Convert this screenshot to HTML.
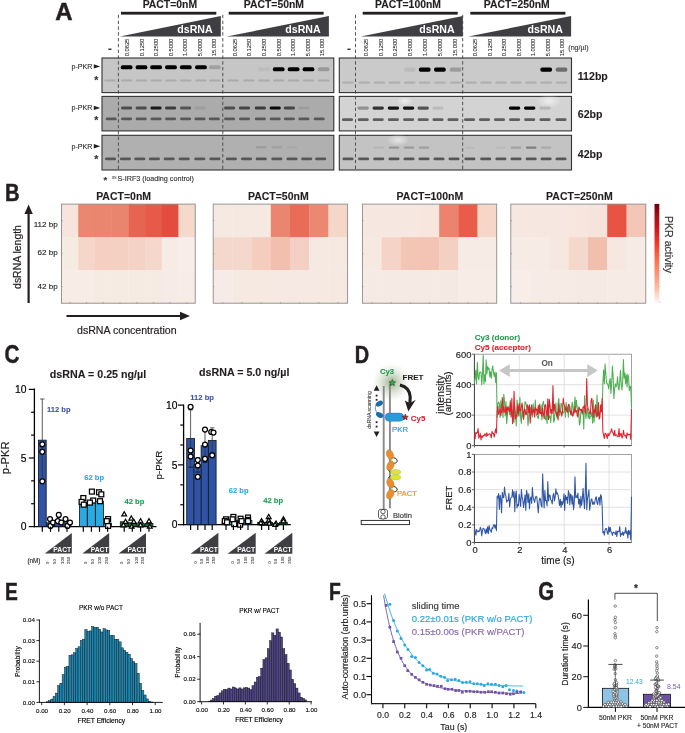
<!DOCTYPE html>
<html><head><meta charset="utf-8"><style>
html,body{margin:0;padding:0;background:#fff;}
svg{display:block;font-family:"Liberation Sans",sans-serif;will-change:transform;}
</style></head><body>
<svg width="685" height="733" viewBox="0 0 685 733">
<defs><filter id="bl" x="-50%" y="-100%" width="200%" height="300%"><feGaussianBlur stdDeviation="0.7"/></filter></defs>
<rect width="685" height="733" fill="#fff"/>
<text transform="translate(55.2,19.9) scale(0.9697,1)" font-size="24.71" font-weight="bold" fill="#231f20" stroke="#231f20" stroke-width="0.5">A</text>
<text x="169.9" y="7.9" font-size="10.4" font-weight="bold" text-anchor="middle" fill="#231f20"  stroke="#231f20" stroke-width="0.112">PACT=0nM</text>
<rect x="121" y="11.8" width="95.3" height="2.8" fill="#231f20" stroke="none" stroke-width="0" />
<polygon points="119.8,36.6 220.8,15.9 220.8,36.6" fill="#3f3f43"/>
<text x="212.6" y="32.6" font-size="10.6" font-weight="bold" text-anchor="end" fill="#ffffff" >dsRNA</text>
<text x="273.9" y="7.9" font-size="10.4" font-weight="bold" text-anchor="middle" fill="#231f20"  stroke="#231f20" stroke-width="0.112">PACT=50nM</text>
<rect x="228.7" y="11.8" width="94.9" height="2.8" fill="#231f20" stroke="none" stroke-width="0" />
<polygon points="226.8,36.6 328.9,15.9 328.9,36.6" fill="#3f3f43"/>
<text x="320.7" y="32.6" font-size="10.6" font-weight="bold" text-anchor="end" fill="#ffffff" >dsRNA</text>
<text x="408" y="7.9" font-size="10.4" font-weight="bold" text-anchor="middle" fill="#231f20"  stroke="#231f20" stroke-width="0.112">PACT=100nM</text>
<rect x="362.7" y="11.8" width="95" height="2.8" fill="#231f20" stroke="none" stroke-width="0" />
<polygon points="360.7,36.6 462.8,15.9 462.8,36.6" fill="#3f3f43"/>
<text x="454.6" y="32.6" font-size="10.6" font-weight="bold" text-anchor="end" fill="#ffffff" >dsRNA</text>
<text x="516.8" y="7.9" font-size="10.4" font-weight="bold" text-anchor="middle" fill="#231f20"  stroke="#231f20" stroke-width="0.112">PACT=250nM</text>
<rect x="470.3" y="11.8" width="95.1" height="2.8" fill="#231f20" stroke="none" stroke-width="0" />
<polygon points="468.3,36.6 571.1,15.9 571.1,36.6" fill="#3f3f43"/>
<text x="562.9" y="32.6" font-size="10.6" font-weight="bold" text-anchor="end" fill="#ffffff" >dsRNA</text>
<text transform="translate(129.4,56.3) rotate(-90)" font-size="5.75" text-anchor="start" fill="#222" stroke="#222" stroke-width="0.08">0.0625</text>
<text transform="translate(143.9,56.3) rotate(-90)" font-size="5.75" text-anchor="start" fill="#222" stroke="#222" stroke-width="0.08">0.1250</text>
<text transform="translate(158.4,56.3) rotate(-90)" font-size="5.75" text-anchor="start" fill="#222" stroke="#222" stroke-width="0.08">0.2500</text>
<text transform="translate(172.9,56.3) rotate(-90)" font-size="5.75" text-anchor="start" fill="#222" stroke="#222" stroke-width="0.08">0.5000</text>
<text transform="translate(187.3,56.3) rotate(-90)" font-size="5.75" text-anchor="start" fill="#222" stroke="#222" stroke-width="0.08">1.0000</text>
<text transform="translate(201.7,56.3) rotate(-90)" font-size="5.75" text-anchor="start" fill="#222" stroke="#222" stroke-width="0.08">5.0000</text>
<text transform="translate(216.1,56.3) rotate(-90)" font-size="5.75" text-anchor="start" fill="#222" stroke="#222" stroke-width="0.08">15.000</text>
<text transform="translate(236.9,56.3) rotate(-90)" font-size="5.75" text-anchor="start" fill="#222" stroke="#222" stroke-width="0.08">0.0625</text>
<text transform="translate(251.4,56.3) rotate(-90)" font-size="5.75" text-anchor="start" fill="#222" stroke="#222" stroke-width="0.08">0.1250</text>
<text transform="translate(266,56.3) rotate(-90)" font-size="5.75" text-anchor="start" fill="#222" stroke="#222" stroke-width="0.08">0.2500</text>
<text transform="translate(280.6,56.3) rotate(-90)" font-size="5.75" text-anchor="start" fill="#222" stroke="#222" stroke-width="0.08">0.5000</text>
<text transform="translate(295.1,56.3) rotate(-90)" font-size="5.75" text-anchor="start" fill="#222" stroke="#222" stroke-width="0.08">1.0000</text>
<text transform="translate(309.7,56.3) rotate(-90)" font-size="5.75" text-anchor="start" fill="#222" stroke="#222" stroke-width="0.08">5.0000</text>
<text transform="translate(324.3,56.3) rotate(-90)" font-size="5.75" text-anchor="start" fill="#222" stroke="#222" stroke-width="0.08">15.000</text>
<text transform="translate(368.1,56.3) rotate(-90)" font-size="5.75" text-anchor="start" fill="#222" stroke="#222" stroke-width="0.08">0.0625</text>
<text transform="translate(382.7,56.3) rotate(-90)" font-size="5.75" text-anchor="start" fill="#222" stroke="#222" stroke-width="0.08">0.1250</text>
<text transform="translate(397.4,56.3) rotate(-90)" font-size="5.75" text-anchor="start" fill="#222" stroke="#222" stroke-width="0.08">0.2500</text>
<text transform="translate(412.1,56.3) rotate(-90)" font-size="5.75" text-anchor="start" fill="#222" stroke="#222" stroke-width="0.08">0.5000</text>
<text transform="translate(426.9,56.3) rotate(-90)" font-size="5.75" text-anchor="start" fill="#222" stroke="#222" stroke-width="0.08">1.0000</text>
<text transform="translate(441.7,56.3) rotate(-90)" font-size="5.75" text-anchor="start" fill="#222" stroke="#222" stroke-width="0.08">5.0000</text>
<text transform="translate(456.6,56.3) rotate(-90)" font-size="5.75" text-anchor="start" fill="#222" stroke="#222" stroke-width="0.08">15.000</text>
<text transform="translate(477.1,56.3) rotate(-90)" font-size="5.75" text-anchor="start" fill="#222" stroke="#222" stroke-width="0.08">0.0625</text>
<text transform="translate(491.6,56.3) rotate(-90)" font-size="5.75" text-anchor="start" fill="#222" stroke="#222" stroke-width="0.08">0.1250</text>
<text transform="translate(506.1,56.3) rotate(-90)" font-size="5.75" text-anchor="start" fill="#222" stroke="#222" stroke-width="0.08">0.2500</text>
<text transform="translate(520.7,56.3) rotate(-90)" font-size="5.75" text-anchor="start" fill="#222" stroke="#222" stroke-width="0.08">0.5000</text>
<text transform="translate(535.3,56.3) rotate(-90)" font-size="5.75" text-anchor="start" fill="#222" stroke="#222" stroke-width="0.08">1.0000</text>
<text transform="translate(549.9,56.3) rotate(-90)" font-size="5.75" text-anchor="start" fill="#222" stroke="#222" stroke-width="0.08">5.0000</text>
<text transform="translate(564.4,56.3) rotate(-90)" font-size="5.75" text-anchor="start" fill="#222" stroke="#222" stroke-width="0.08">15.000</text>
<text x="568.3" y="50.3" font-size="7.1" text-anchor="start" fill="#333"  stroke="#333" stroke-width="0.128">(ng/µl)</text>
<rect x="108.3" y="48.6" width="3.2" height="1.3" fill="#231f20" stroke="none" stroke-width="0" />
<rect x="347.4" y="48.6" width="3.2" height="1.3" fill="#231f20" stroke="none" stroke-width="0" />
<linearGradient id="gL0" x1="0" x2="1" y1="0" y2="0"><stop offset="0" stop-color="#c6c6c6"/><stop offset="1" stop-color="#c6c6c6"/></linearGradient>
<rect x="102" y="58" width="231.8" height="34.6" fill="#c6c6c6" stroke="#333" stroke-width="1.1" />
<linearGradient id="gL1" x1="0" x2="1" y1="0" y2="0"><stop offset="0" stop-color="#ababab"/><stop offset="1" stop-color="#ababab"/></linearGradient>
<rect x="102" y="96.4" width="231.8" height="34.5" fill="#ababab" stroke="#333" stroke-width="1.1" />
<linearGradient id="gL2" x1="0" x2="1" y1="0" y2="0"><stop offset="0" stop-color="#b0b0b0"/><stop offset="1" stop-color="#b0b0b0"/></linearGradient>
<rect x="102" y="135.3" width="231.8" height="34.7" fill="#b0b0b0" stroke="#333" stroke-width="1.1" />
<linearGradient id="gR0" x1="0" x2="1" y1="0" y2="0"><stop offset="0" stop-color="#cacaca"/><stop offset="1" stop-color="#cacaca"/></linearGradient>
<rect x="339.3" y="58" width="232.2" height="34.6" fill="#cacaca" stroke="#333" stroke-width="1.1" />
<linearGradient id="gR1" x1="0" x2="1" y1="0" y2="0"><stop offset="0" stop-color="#d3d3d3"/><stop offset="1" stop-color="#d3d3d3"/></linearGradient>
<rect x="339.3" y="96.4" width="232.2" height="34.5" fill="#d3d3d3" stroke="#333" stroke-width="1.1" />
<linearGradient id="gR2" x1="0" x2="1" y1="0" y2="0"><stop offset="0" stop-color="#c3c3c3"/><stop offset="1" stop-color="#c3c3c3"/></linearGradient>
<rect x="339.3" y="135.3" width="232.2" height="34.7" fill="#c3c3c3" stroke="#333" stroke-width="1.1" />
<radialGradient id="wp"><stop offset="0" stop-color="#fff" stop-opacity="0.6"/><stop offset="1" stop-color="#fff" stop-opacity="0"/></radialGradient>
<ellipse cx="549" cy="101" rx="12.6" ry="6.75" fill="url(#wp)"/>
<ellipse cx="398" cy="140" rx="11.2" ry="6.0" fill="url(#wp)"/>
<ellipse cx="405" cy="101" rx="8.399999999999999" ry="4.5" fill="url(#wp)"/>
<rect x="120.7" y="65.15" width="11.8" height="4.1" rx="1.84" fill="#000" opacity="1" filter="url(#bl)"/>
<rect x="135.6" y="65.15" width="11.8" height="4.1" rx="1.84" fill="#000" opacity="1" filter="url(#bl)"/>
<rect x="150.2" y="65.15" width="11.8" height="4.1" rx="1.84" fill="#000" opacity="1" filter="url(#bl)"/>
<rect x="165.1" y="65.15" width="11.8" height="4.1" rx="1.84" fill="#000" opacity="1" filter="url(#bl)"/>
<rect x="179.9" y="65.15" width="11.8" height="4.1" rx="1.84" fill="#000" opacity="1" filter="url(#bl)"/>
<rect x="195.1" y="65.15" width="11.8" height="4.1" rx="1.84" fill="#000" opacity="1" filter="url(#bl)"/>
<rect x="208.9" y="65.15" width="11.8" height="4.1" rx="1.84" fill="#000" opacity="0.18" filter="url(#bl)"/>
<rect x="258.2" y="67.25" width="11.8" height="4.1" rx="1.84" fill="#000" opacity="0.04" filter="url(#bl)"/>
<rect x="272.8" y="67.25" width="11.8" height="4.1" rx="1.84" fill="#000" opacity="1" filter="url(#bl)"/>
<rect x="287.7" y="67.25" width="11.8" height="4.1" rx="1.84" fill="#000" opacity="1" filter="url(#bl)"/>
<rect x="302.6" y="67.25" width="11.8" height="4.1" rx="1.84" fill="#000" opacity="1" filter="url(#bl)"/>
<rect x="317.7" y="67.25" width="11.8" height="4.1" rx="1.84" fill="#000" opacity="0.22" filter="url(#bl)"/>
<rect x="403.9" y="67.55" width="11.8" height="4.1" rx="1.84" fill="#000" opacity="0.07" filter="url(#bl)"/>
<rect x="418.8" y="67.55" width="11.8" height="4.1" rx="1.84" fill="#000" opacity="1" filter="url(#bl)"/>
<rect x="434" y="67.55" width="11.8" height="4.1" rx="1.84" fill="#000" opacity="1" filter="url(#bl)"/>
<rect x="449.7" y="67.55" width="11.8" height="4.1" rx="1.84" fill="#000" opacity="0.22" filter="url(#bl)"/>
<rect x="540.3" y="67.55" width="11.8" height="4.1" rx="1.84" fill="#000" opacity="1" filter="url(#bl)"/>
<rect x="555.6" y="67.55" width="11.8" height="4.1" rx="1.84" fill="#000" opacity="0.45" filter="url(#bl)"/>
<rect x="104.25" y="79.4" width="11.5" height="2.2" rx="0.99" fill="#000" opacity="0.13" filter="url(#bl)"/>
<rect x="120.85" y="79.4" width="11.5" height="2.2" rx="0.99" fill="#000" opacity="0.13" filter="url(#bl)"/>
<rect x="135.75" y="79.4" width="11.5" height="2.2" rx="0.99" fill="#000" opacity="0.13" filter="url(#bl)"/>
<rect x="150.35" y="79.4" width="11.5" height="2.2" rx="0.99" fill="#000" opacity="0.13" filter="url(#bl)"/>
<rect x="165.25" y="79.4" width="11.5" height="2.2" rx="0.99" fill="#000" opacity="0.13" filter="url(#bl)"/>
<rect x="180.05" y="79.4" width="11.5" height="2.2" rx="0.99" fill="#000" opacity="0.13" filter="url(#bl)"/>
<rect x="195.25" y="79.4" width="11.5" height="2.2" rx="0.99" fill="#000" opacity="0.13" filter="url(#bl)"/>
<rect x="209.05" y="79.4" width="11.5" height="2.2" rx="0.99" fill="#000" opacity="0.13" filter="url(#bl)"/>
<rect x="227.35" y="79.4" width="11.5" height="2.2" rx="0.99" fill="#000" opacity="0.13" filter="url(#bl)"/>
<rect x="243.15" y="79.4" width="11.5" height="2.2" rx="0.99" fill="#000" opacity="0.13" filter="url(#bl)"/>
<rect x="258.35" y="79.4" width="11.5" height="2.2" rx="0.99" fill="#000" opacity="0.13" filter="url(#bl)"/>
<rect x="272.95" y="79.4" width="11.5" height="2.2" rx="0.99" fill="#000" opacity="0.13" filter="url(#bl)"/>
<rect x="287.85" y="79.4" width="11.5" height="2.2" rx="0.99" fill="#000" opacity="0.13" filter="url(#bl)"/>
<rect x="302.75" y="79.4" width="11.5" height="2.2" rx="0.99" fill="#000" opacity="0.13" filter="url(#bl)"/>
<rect x="317.85" y="79.4" width="11.5" height="2.2" rx="0.99" fill="#000" opacity="0.13" filter="url(#bl)"/>
<rect x="342.25" y="81.5" width="11.5" height="2.2" rx="0.99" fill="#000" opacity="0.12" filter="url(#bl)"/>
<rect x="358.45" y="81.5" width="11.5" height="2.2" rx="0.99" fill="#000" opacity="0.12" filter="url(#bl)"/>
<rect x="373.65" y="81.5" width="11.5" height="2.2" rx="0.99" fill="#000" opacity="0.12" filter="url(#bl)"/>
<rect x="388.85" y="81.5" width="11.5" height="2.2" rx="0.99" fill="#000" opacity="0.12" filter="url(#bl)"/>
<rect x="404.05" y="81.5" width="11.5" height="2.2" rx="0.99" fill="#000" opacity="0.12" filter="url(#bl)"/>
<rect x="418.95" y="81.5" width="11.5" height="2.2" rx="0.99" fill="#000" opacity="0.12" filter="url(#bl)"/>
<rect x="434.15" y="81.5" width="11.5" height="2.2" rx="0.99" fill="#000" opacity="0.12" filter="url(#bl)"/>
<rect x="449.85" y="81.5" width="11.5" height="2.2" rx="0.99" fill="#000" opacity="0.12" filter="url(#bl)"/>
<rect x="465.25" y="81.5" width="11.5" height="2.2" rx="0.99" fill="#000" opacity="0.12" filter="url(#bl)"/>
<rect x="480.25" y="81.5" width="11.5" height="2.2" rx="0.99" fill="#000" opacity="0.12" filter="url(#bl)"/>
<rect x="495.25" y="81.5" width="11.5" height="2.2" rx="0.99" fill="#000" opacity="0.12" filter="url(#bl)"/>
<rect x="510.25" y="81.5" width="11.5" height="2.2" rx="0.99" fill="#000" opacity="0.12" filter="url(#bl)"/>
<rect x="525.25" y="81.5" width="11.5" height="2.2" rx="0.99" fill="#000" opacity="0.12" filter="url(#bl)"/>
<rect x="540.45" y="81.5" width="11.5" height="2.2" rx="0.99" fill="#000" opacity="0.12" filter="url(#bl)"/>
<rect x="555.75" y="81.5" width="11.5" height="2.2" rx="0.99" fill="#000" opacity="0.12" filter="url(#bl)"/>
<rect x="121.1" y="106.5" width="11" height="3" rx="1.35" fill="#000" opacity="0.55" filter="url(#bl)"/>
<rect x="135.7" y="106.5" width="11" height="3" rx="1.35" fill="#000" opacity="0.55" filter="url(#bl)"/>
<rect x="150.5" y="106.5" width="11" height="3" rx="1.35" fill="#000" opacity="0.85" filter="url(#bl)"/>
<rect x="165.1" y="106.5" width="11" height="3" rx="1.35" fill="#000" opacity="0.65" filter="url(#bl)"/>
<rect x="180.1" y="106.5" width="11" height="3" rx="1.35" fill="#000" opacity="0.5" filter="url(#bl)"/>
<rect x="194.5" y="106.5" width="11" height="3" rx="1.35" fill="#000" opacity="0.07" filter="url(#bl)"/>
<rect x="224.1" y="106.5" width="11" height="3" rx="1.35" fill="#000" opacity="0.55" filter="url(#bl)"/>
<rect x="239" y="106.5" width="11" height="3" rx="1.35" fill="#000" opacity="0.6" filter="url(#bl)"/>
<rect x="254.8" y="106.5" width="11" height="3" rx="1.35" fill="#000" opacity="0.65" filter="url(#bl)"/>
<rect x="269.7" y="106.5" width="11" height="3" rx="1.35" fill="#000" opacity="0.95" filter="url(#bl)"/>
<rect x="283.9" y="106.5" width="11" height="3" rx="1.35" fill="#000" opacity="0.6" filter="url(#bl)"/>
<rect x="298.4" y="106.5" width="11" height="3" rx="1.35" fill="#000" opacity="0.08" filter="url(#bl)"/>
<rect x="357.6" y="106.6" width="11.2" height="3.2" rx="1.44" fill="#000" opacity="0.3" filter="url(#bl)"/>
<rect x="372.6" y="106.6" width="11.2" height="3.2" rx="1.44" fill="#000" opacity="0.75" filter="url(#bl)"/>
<rect x="387.8" y="106.6" width="11.2" height="3.2" rx="1.44" fill="#000" opacity="0.9" filter="url(#bl)"/>
<rect x="403" y="106.6" width="11.2" height="3.2" rx="1.44" fill="#000" opacity="0.9" filter="url(#bl)"/>
<rect x="417.6" y="106.6" width="11.2" height="3.2" rx="1.44" fill="#000" opacity="0.6" filter="url(#bl)"/>
<rect x="432.4" y="106.6" width="11.2" height="3.2" rx="1.44" fill="#000" opacity="0.1" filter="url(#bl)"/>
<rect x="509" y="106.6" width="11.2" height="3.2" rx="1.44" fill="#000" opacity="1" filter="url(#bl)"/>
<rect x="524.1" y="106.6" width="11.2" height="3.2" rx="1.44" fill="#000" opacity="1" filter="url(#bl)"/>
<rect x="539.4" y="106.6" width="11.2" height="3.2" rx="1.44" fill="#000" opacity="0.12" filter="url(#bl)"/>
<rect x="105.7" y="117.5" width="11" height="2.8" rx="1.26" fill="#000" opacity="0.48" filter="url(#bl)"/>
<rect x="121.1" y="117.5" width="11" height="2.8" rx="1.26" fill="#000" opacity="0.48" filter="url(#bl)"/>
<rect x="135.7" y="117.5" width="11" height="2.8" rx="1.26" fill="#000" opacity="0.48" filter="url(#bl)"/>
<rect x="150.5" y="117.5" width="11" height="2.8" rx="1.26" fill="#000" opacity="0.48" filter="url(#bl)"/>
<rect x="165.1" y="117.5" width="11" height="2.8" rx="1.26" fill="#000" opacity="0.48" filter="url(#bl)"/>
<rect x="180.1" y="117.5" width="11" height="2.8" rx="1.26" fill="#000" opacity="0.48" filter="url(#bl)"/>
<rect x="194.5" y="117.5" width="11" height="2.8" rx="1.26" fill="#000" opacity="0.48" filter="url(#bl)"/>
<rect x="208.8" y="117.5" width="11" height="2.8" rx="1.26" fill="#000" opacity="0.48" filter="url(#bl)"/>
<rect x="224.1" y="117.5" width="11" height="2.8" rx="1.26" fill="#000" opacity="0.48" filter="url(#bl)"/>
<rect x="239" y="117.5" width="11" height="2.8" rx="1.26" fill="#000" opacity="0.48" filter="url(#bl)"/>
<rect x="254.8" y="117.5" width="11" height="2.8" rx="1.26" fill="#000" opacity="0.48" filter="url(#bl)"/>
<rect x="269.7" y="117.5" width="11" height="2.8" rx="1.26" fill="#000" opacity="0.48" filter="url(#bl)"/>
<rect x="283.9" y="117.5" width="11" height="2.8" rx="1.26" fill="#000" opacity="0.48" filter="url(#bl)"/>
<rect x="298.4" y="117.5" width="11" height="2.8" rx="1.26" fill="#000" opacity="0.48" filter="url(#bl)"/>
<rect x="313.7" y="117.5" width="11" height="2.8" rx="1.26" fill="#000" opacity="0.48" filter="url(#bl)"/>
<rect x="342" y="118.2" width="11" height="2.8" rx="1.26" fill="#000" opacity="0.55" filter="url(#bl)"/>
<rect x="357.7" y="118.2" width="11" height="2.8" rx="1.26" fill="#000" opacity="0.55" filter="url(#bl)"/>
<rect x="372.7" y="118.2" width="11" height="2.8" rx="1.26" fill="#000" opacity="0.55" filter="url(#bl)"/>
<rect x="387.9" y="118.2" width="11" height="2.8" rx="1.26" fill="#000" opacity="0.55" filter="url(#bl)"/>
<rect x="403.1" y="118.2" width="11" height="2.8" rx="1.26" fill="#000" opacity="0.55" filter="url(#bl)"/>
<rect x="417.7" y="118.2" width="11" height="2.8" rx="1.26" fill="#000" opacity="0.55" filter="url(#bl)"/>
<rect x="432.5" y="118.2" width="11" height="2.8" rx="1.26" fill="#000" opacity="0.55" filter="url(#bl)"/>
<rect x="447.5" y="118.2" width="11" height="2.8" rx="1.26" fill="#000" opacity="0.55" filter="url(#bl)"/>
<rect x="464" y="118.2" width="11" height="2.8" rx="1.26" fill="#000" opacity="0.55" filter="url(#bl)"/>
<rect x="479" y="118.2" width="11" height="2.8" rx="1.26" fill="#000" opacity="0.55" filter="url(#bl)"/>
<rect x="494" y="118.2" width="11" height="2.8" rx="1.26" fill="#000" opacity="0.55" filter="url(#bl)"/>
<rect x="509.1" y="118.2" width="11" height="2.8" rx="1.26" fill="#000" opacity="0.55" filter="url(#bl)"/>
<rect x="524.2" y="118.2" width="11" height="2.8" rx="1.26" fill="#000" opacity="0.55" filter="url(#bl)"/>
<rect x="539.5" y="118.2" width="11" height="2.8" rx="1.26" fill="#000" opacity="0.55" filter="url(#bl)"/>
<rect x="555.5" y="118.2" width="11" height="2.8" rx="1.26" fill="#000" opacity="0.55" filter="url(#bl)"/>
<rect x="255.95" y="146.1" width="10.5" height="2.4" rx="1.08" fill="#000" opacity="0.1" filter="url(#bl)"/>
<rect x="271.55" y="146.1" width="10.5" height="2.4" rx="1.08" fill="#000" opacity="0.08" filter="url(#bl)"/>
<rect x="286.75" y="146.1" width="10.5" height="2.4" rx="1.08" fill="#000" opacity="0.04" filter="url(#bl)"/>
<rect x="373.55" y="146.4" width="10.5" height="2.4" rx="1.08" fill="#000" opacity="0.06" filter="url(#bl)"/>
<rect x="388.75" y="146.4" width="10.5" height="2.4" rx="1.08" fill="#000" opacity="0.22" filter="url(#bl)"/>
<rect x="403.75" y="146.4" width="10.5" height="2.4" rx="1.08" fill="#000" opacity="0.2" filter="url(#bl)"/>
<rect x="418.75" y="146.4" width="10.5" height="2.4" rx="1.08" fill="#000" opacity="0.18" filter="url(#bl)"/>
<rect x="464.65" y="146.4" width="10.5" height="2.4" rx="1.08" fill="#000" opacity="0.04" filter="url(#bl)"/>
<rect x="495.65" y="146.4" width="10.5" height="2.4" rx="1.08" fill="#000" opacity="0.04" filter="url(#bl)"/>
<rect x="510.75" y="146.4" width="10.5" height="2.4" rx="1.08" fill="#000" opacity="0.16" filter="url(#bl)"/>
<rect x="525.95" y="146.4" width="10.5" height="2.4" rx="1.08" fill="#000" opacity="0.35" filter="url(#bl)"/>
<rect x="540.85" y="146.4" width="10.5" height="2.4" rx="1.08" fill="#000" opacity="0.12" filter="url(#bl)"/>
<rect x="105" y="157.4" width="11" height="2.8" rx="1.26" fill="#000" opacity="0.5" filter="url(#bl)"/>
<rect x="119.9" y="157.4" width="11" height="2.8" rx="1.26" fill="#000" opacity="0.5" filter="url(#bl)"/>
<rect x="134.3" y="157.4" width="11" height="2.8" rx="1.26" fill="#000" opacity="0.5" filter="url(#bl)"/>
<rect x="148.9" y="157.4" width="11" height="2.8" rx="1.26" fill="#000" opacity="0.5" filter="url(#bl)"/>
<rect x="163.7" y="157.4" width="11" height="2.8" rx="1.26" fill="#000" opacity="0.5" filter="url(#bl)"/>
<rect x="178.7" y="157.4" width="11" height="2.8" rx="1.26" fill="#000" opacity="0.5" filter="url(#bl)"/>
<rect x="194.3" y="157.4" width="11" height="2.8" rx="1.26" fill="#000" opacity="0.5" filter="url(#bl)"/>
<rect x="209.4" y="157.4" width="11" height="2.8" rx="1.26" fill="#000" opacity="0.5" filter="url(#bl)"/>
<rect x="225.9" y="157.4" width="11" height="2.8" rx="1.26" fill="#000" opacity="0.5" filter="url(#bl)"/>
<rect x="241" y="157.4" width="11" height="2.8" rx="1.26" fill="#000" opacity="0.5" filter="url(#bl)"/>
<rect x="255.7" y="157.4" width="11" height="2.8" rx="1.26" fill="#000" opacity="0.5" filter="url(#bl)"/>
<rect x="271.3" y="157.4" width="11" height="2.8" rx="1.26" fill="#000" opacity="0.5" filter="url(#bl)"/>
<rect x="286.5" y="157.4" width="11" height="2.8" rx="1.26" fill="#000" opacity="0.5" filter="url(#bl)"/>
<rect x="301.2" y="157.4" width="11" height="2.8" rx="1.26" fill="#000" opacity="0.5" filter="url(#bl)"/>
<rect x="315.2" y="157.4" width="11" height="2.8" rx="1.26" fill="#000" opacity="0.5" filter="url(#bl)"/>
<rect x="342.5" y="157.4" width="11" height="2.8" rx="1.26" fill="#000" opacity="0.55" filter="url(#bl)"/>
<rect x="358.1" y="157.4" width="11" height="2.8" rx="1.26" fill="#000" opacity="0.55" filter="url(#bl)"/>
<rect x="373.3" y="157.4" width="11" height="2.8" rx="1.26" fill="#000" opacity="0.55" filter="url(#bl)"/>
<rect x="388.5" y="157.4" width="11" height="2.8" rx="1.26" fill="#000" opacity="0.55" filter="url(#bl)"/>
<rect x="403.5" y="157.4" width="11" height="2.8" rx="1.26" fill="#000" opacity="0.55" filter="url(#bl)"/>
<rect x="418.5" y="157.4" width="11" height="2.8" rx="1.26" fill="#000" opacity="0.55" filter="url(#bl)"/>
<rect x="433.5" y="157.4" width="11" height="2.8" rx="1.26" fill="#000" opacity="0.55" filter="url(#bl)"/>
<rect x="448.5" y="157.4" width="11" height="2.8" rx="1.26" fill="#000" opacity="0.55" filter="url(#bl)"/>
<rect x="464.4" y="157.4" width="11" height="2.8" rx="1.26" fill="#000" opacity="0.55" filter="url(#bl)"/>
<rect x="480.2" y="157.4" width="11" height="2.8" rx="1.26" fill="#000" opacity="0.55" filter="url(#bl)"/>
<rect x="495.4" y="157.4" width="11" height="2.8" rx="1.26" fill="#000" opacity="0.55" filter="url(#bl)"/>
<rect x="510.5" y="157.4" width="11" height="2.8" rx="1.26" fill="#000" opacity="0.55" filter="url(#bl)"/>
<rect x="525.7" y="157.4" width="11" height="2.8" rx="1.26" fill="#000" opacity="0.55" filter="url(#bl)"/>
<rect x="540.6" y="157.4" width="11" height="2.8" rx="1.26" fill="#000" opacity="0.55" filter="url(#bl)"/>
<rect x="555.5" y="157.4" width="11" height="2.8" rx="1.26" fill="#000" opacity="0.55" filter="url(#bl)"/>
<line x1="118.4" y1="14.8" x2="118.4" y2="170.4" stroke="#444" stroke-width="0.9" stroke-dasharray="3.4,2.4"/>
<line x1="222.8" y1="14.8" x2="222.8" y2="170.4" stroke="#444" stroke-width="0.9" stroke-dasharray="3.4,2.4"/>
<line x1="355.5" y1="14.8" x2="355.5" y2="170.4" stroke="#444" stroke-width="0.9" stroke-dasharray="3.4,2.4"/>
<line x1="462.7" y1="14.8" x2="462.7" y2="170.4" stroke="#444" stroke-width="0.9" stroke-dasharray="3.4,2.4"/>
<text x="92.4" y="68.9" font-size="7.1" text-anchor="end" fill="#333"  stroke="#333" stroke-width="0.128">p-PKR</text>
<polygon points="93.8,64.2 100.2,66.4 93.8,68.6" fill="#231f20"/>
<text x="92.4" y="110.4" font-size="7.1" text-anchor="end" fill="#333"  stroke="#333" stroke-width="0.128">p-PKR</text>
<polygon points="93.8,105.7 100.2,107.9 93.8,110.1" fill="#231f20"/>
<text x="92.4" y="148.7" font-size="7.1" text-anchor="end" fill="#333"  stroke="#333" stroke-width="0.128">p-PKR</text>
<polygon points="93.8,144 100.2,146.2 93.8,148.4" fill="#231f20"/>
<text x="96.2" y="84.2" font-size="10.5" font-weight="bold" text-anchor="middle" fill="#333"  stroke="#333" stroke-width="0.113">*</text>
<text x="96.2" y="123.8" font-size="10.5" font-weight="bold" text-anchor="middle" fill="#333"  stroke="#333" stroke-width="0.113">*</text>
<text x="96.2" y="163" font-size="10.5" font-weight="bold" text-anchor="middle" fill="#333"  stroke="#333" stroke-width="0.113">*</text>
<text x="577.8" y="80" font-size="10.6" font-weight="bold" text-anchor="start" fill="#231f20"  stroke="#231f20" stroke-width="0.114">112bp</text>
<text x="577.8" y="118" font-size="10.6" font-weight="bold" text-anchor="start" fill="#231f20"  stroke="#231f20" stroke-width="0.114">62bp</text>
<text x="577.8" y="158" font-size="10.6" font-weight="bold" text-anchor="start" fill="#231f20"  stroke="#231f20" stroke-width="0.114">42bp</text>
<text x="103.4" y="182.8" font-size="9.5" font-weight="bold" text-anchor="start" fill="#333"  stroke="#333" stroke-width="0.103">*</text>
<text x="111.8" y="178.8" font-size="4.2" text-anchor="start" fill="#333"  stroke="#333" stroke-width="0.076">35</text>
<text x="117.5" y="181.2" font-size="7.19" text-anchor="start" fill="#333"  stroke="#333" stroke-width="0.129">S-IRF3 (loading control)</text>
<text transform="translate(5,201) scale(0.8232,1)" font-size="24.56" font-weight="bold" fill="#231f20" stroke="#231f20" stroke-width="0.5">B</text>
<rect x="61.5" y="204.1" width="17.01" height="33.33" fill="#f7e5dd" stroke="none" stroke-width="0" />
<rect x="78.21" y="204.1" width="17.01" height="33.33" fill="#ea8770" stroke="none" stroke-width="0" />
<rect x="94.92" y="204.1" width="17.01" height="33.33" fill="#ea8670" stroke="none" stroke-width="0" />
<rect x="111.64" y="204.1" width="17.01" height="33.33" fill="#e9856f" stroke="none" stroke-width="0" />
<rect x="128.35" y="204.1" width="17.01" height="33.33" fill="#e66551" stroke="none" stroke-width="0" />
<rect x="145.06" y="204.1" width="17.01" height="33.33" fill="#e55a48" stroke="none" stroke-width="0" />
<rect x="161.77" y="204.1" width="17.01" height="33.33" fill="#e34c3f" stroke="none" stroke-width="0" />
<rect x="178.49" y="204.1" width="17.01" height="33.33" fill="#f5d9cb" stroke="none" stroke-width="0" />
<rect x="61.5" y="237.13" width="17.01" height="33.33" fill="#f5ebe3" stroke="none" stroke-width="0" />
<rect x="78.21" y="237.13" width="17.01" height="33.33" fill="#f5d7ca" stroke="none" stroke-width="0" />
<rect x="94.92" y="237.13" width="17.01" height="33.33" fill="#f4cfc2" stroke="none" stroke-width="0" />
<rect x="111.64" y="237.13" width="17.01" height="33.33" fill="#f4d0c3" stroke="none" stroke-width="0" />
<rect x="128.35" y="237.13" width="17.01" height="33.33" fill="#f4d3c6" stroke="none" stroke-width="0" />
<rect x="145.06" y="237.13" width="17.01" height="33.33" fill="#f5d7cb" stroke="none" stroke-width="0" />
<rect x="161.77" y="237.13" width="17.01" height="33.33" fill="#f7ebe5" stroke="none" stroke-width="0" />
<rect x="178.49" y="237.13" width="17.01" height="33.33" fill="#f8ede8" stroke="none" stroke-width="0" />
<rect x="61.5" y="270.17" width="17.01" height="33.33" fill="#f7ece6" stroke="none" stroke-width="0" />
<rect x="78.21" y="270.17" width="17.01" height="33.33" fill="#f7ece6" stroke="none" stroke-width="0" />
<rect x="94.92" y="270.17" width="17.01" height="33.33" fill="#f5ebe3" stroke="none" stroke-width="0" />
<rect x="111.64" y="270.17" width="17.01" height="33.33" fill="#f5ebe3" stroke="none" stroke-width="0" />
<rect x="128.35" y="270.17" width="17.01" height="33.33" fill="#f5ebe3" stroke="none" stroke-width="0" />
<rect x="145.06" y="270.17" width="17.01" height="33.33" fill="#f5ebe3" stroke="none" stroke-width="0" />
<rect x="161.77" y="270.17" width="17.01" height="33.33" fill="#f6ebe6" stroke="none" stroke-width="0" />
<rect x="178.49" y="270.17" width="17.01" height="33.33" fill="#f7ece6" stroke="none" stroke-width="0" />
<rect x="61.5" y="204.1" width="133.7" height="99.1" fill="none" stroke="#8c8c8c" stroke-width="0.9" />
<line x1="69.86" y1="303.2" x2="69.86" y2="302" stroke="#777" stroke-width="0.5" />
<line x1="86.57" y1="303.2" x2="86.57" y2="302" stroke="#777" stroke-width="0.5" />
<line x1="103.28" y1="303.2" x2="103.28" y2="302" stroke="#777" stroke-width="0.5" />
<line x1="119.99" y1="303.2" x2="119.99" y2="302" stroke="#777" stroke-width="0.5" />
<line x1="136.71" y1="303.2" x2="136.71" y2="302" stroke="#777" stroke-width="0.5" />
<line x1="153.42" y1="303.2" x2="153.42" y2="302" stroke="#777" stroke-width="0.5" />
<line x1="170.13" y1="303.2" x2="170.13" y2="302" stroke="#777" stroke-width="0.5" />
<line x1="186.84" y1="303.2" x2="186.84" y2="302" stroke="#777" stroke-width="0.5" />
<line x1="61.5" y1="220.62" x2="62.7" y2="220.62" stroke="#777" stroke-width="0.5" />
<line x1="61.5" y1="253.65" x2="62.7" y2="253.65" stroke="#777" stroke-width="0.5" />
<line x1="61.5" y1="286.68" x2="62.7" y2="286.68" stroke="#777" stroke-width="0.5" />
<text x="123.6" y="200.2" font-size="10.5" font-weight="bold" text-anchor="middle" fill="#231f20"  stroke="#231f20" stroke-width="0.113">PACT=0nM</text>
<rect x="213.2" y="204.1" width="19.5" height="33.33" fill="#f5e9e1" stroke="none" stroke-width="0" />
<rect x="232.4" y="204.1" width="19.5" height="33.33" fill="#f5e9e1" stroke="none" stroke-width="0" />
<rect x="251.6" y="204.1" width="19.5" height="33.33" fill="#f5e9e1" stroke="none" stroke-width="0" />
<rect x="270.8" y="204.1" width="19.5" height="33.33" fill="#ea8670" stroke="none" stroke-width="0" />
<rect x="290" y="204.1" width="19.5" height="33.33" fill="#e86c58" stroke="none" stroke-width="0" />
<rect x="309.2" y="204.1" width="19.5" height="33.33" fill="#ec8872" stroke="none" stroke-width="0" />
<rect x="328.4" y="204.1" width="19.5" height="33.33" fill="#f5d7c9" stroke="none" stroke-width="0" />
<rect x="213.2" y="237.13" width="19.5" height="33.33" fill="#f5d8cc" stroke="none" stroke-width="0" />
<rect x="232.4" y="237.13" width="19.5" height="33.33" fill="#f5d8cc" stroke="none" stroke-width="0" />
<rect x="251.6" y="237.13" width="19.5" height="33.33" fill="#f4cdbf" stroke="none" stroke-width="0" />
<rect x="270.8" y="237.13" width="19.5" height="33.33" fill="#f2bfae" stroke="none" stroke-width="0" />
<rect x="290" y="237.13" width="19.5" height="33.33" fill="#f4d0c4" stroke="none" stroke-width="0" />
<rect x="309.2" y="237.13" width="19.5" height="33.33" fill="#f5e9e1" stroke="none" stroke-width="0" />
<rect x="328.4" y="237.13" width="19.5" height="33.33" fill="#f5e9e1" stroke="none" stroke-width="0" />
<rect x="213.2" y="270.17" width="19.5" height="33.33" fill="#f6ebe6" stroke="none" stroke-width="0" />
<rect x="232.4" y="270.17" width="19.5" height="33.33" fill="#f5e9e1" stroke="none" stroke-width="0" />
<rect x="251.6" y="270.17" width="19.5" height="33.33" fill="#f5e9e1" stroke="none" stroke-width="0" />
<rect x="270.8" y="270.17" width="19.5" height="33.33" fill="#f6e9e3" stroke="none" stroke-width="0" />
<rect x="290" y="270.17" width="19.5" height="33.33" fill="#f6e9e3" stroke="none" stroke-width="0" />
<rect x="309.2" y="270.17" width="19.5" height="33.33" fill="#f5e9e1" stroke="none" stroke-width="0" />
<rect x="328.4" y="270.17" width="19.5" height="33.33" fill="#f5e9e1" stroke="none" stroke-width="0" />
<rect x="213.2" y="204.1" width="134.4" height="99.1" fill="none" stroke="#8c8c8c" stroke-width="0.9" />
<line x1="222.8" y1="303.2" x2="222.8" y2="302" stroke="#777" stroke-width="0.5" />
<line x1="242" y1="303.2" x2="242" y2="302" stroke="#777" stroke-width="0.5" />
<line x1="261.2" y1="303.2" x2="261.2" y2="302" stroke="#777" stroke-width="0.5" />
<line x1="280.4" y1="303.2" x2="280.4" y2="302" stroke="#777" stroke-width="0.5" />
<line x1="299.6" y1="303.2" x2="299.6" y2="302" stroke="#777" stroke-width="0.5" />
<line x1="318.8" y1="303.2" x2="318.8" y2="302" stroke="#777" stroke-width="0.5" />
<line x1="338" y1="303.2" x2="338" y2="302" stroke="#777" stroke-width="0.5" />
<line x1="213.2" y1="220.62" x2="214.4" y2="220.62" stroke="#777" stroke-width="0.5" />
<line x1="213.2" y1="253.65" x2="214.4" y2="253.65" stroke="#777" stroke-width="0.5" />
<line x1="213.2" y1="286.68" x2="214.4" y2="286.68" stroke="#777" stroke-width="0.5" />
<text x="278.3" y="200.2" font-size="10.5" font-weight="bold" text-anchor="middle" fill="#231f20"  stroke="#231f20" stroke-width="0.113">PACT=50nM</text>
<rect x="362.4" y="204.1" width="19.49" height="33.33" fill="#f6e8e0" stroke="none" stroke-width="0" />
<rect x="381.59" y="204.1" width="19.49" height="33.33" fill="#f6e8e0" stroke="none" stroke-width="0" />
<rect x="400.77" y="204.1" width="19.49" height="33.33" fill="#f6e8e0" stroke="none" stroke-width="0" />
<rect x="419.96" y="204.1" width="19.49" height="33.33" fill="#f6e6de" stroke="none" stroke-width="0" />
<rect x="439.14" y="204.1" width="19.49" height="33.33" fill="#ec846d" stroke="none" stroke-width="0" />
<rect x="458.33" y="204.1" width="19.49" height="33.33" fill="#e95c4a" stroke="none" stroke-width="0" />
<rect x="477.51" y="204.1" width="19.49" height="33.33" fill="#f5d6c8" stroke="none" stroke-width="0" />
<rect x="362.4" y="237.13" width="19.49" height="33.33" fill="#f6e9e2" stroke="none" stroke-width="0" />
<rect x="381.59" y="237.13" width="19.49" height="33.33" fill="#f5d4c7" stroke="none" stroke-width="0" />
<rect x="400.77" y="237.13" width="19.49" height="33.33" fill="#f3c5b5" stroke="none" stroke-width="0" />
<rect x="419.96" y="237.13" width="19.49" height="33.33" fill="#f3c3b3" stroke="none" stroke-width="0" />
<rect x="439.14" y="237.13" width="19.49" height="33.33" fill="#f4d0c3" stroke="none" stroke-width="0" />
<rect x="458.33" y="237.13" width="19.49" height="33.33" fill="#f7ebe5" stroke="none" stroke-width="0" />
<rect x="477.51" y="237.13" width="19.49" height="33.33" fill="#f7ebe5" stroke="none" stroke-width="0" />
<rect x="362.4" y="270.17" width="19.49" height="33.33" fill="#f6eae5" stroke="none" stroke-width="0" />
<rect x="381.59" y="270.17" width="19.49" height="33.33" fill="#f6ebe4" stroke="none" stroke-width="0" />
<rect x="400.77" y="270.17" width="19.49" height="33.33" fill="#f6ebe4" stroke="none" stroke-width="0" />
<rect x="419.96" y="270.17" width="19.49" height="33.33" fill="#f6ebe4" stroke="none" stroke-width="0" />
<rect x="439.14" y="270.17" width="19.49" height="33.33" fill="#f5e9e3" stroke="none" stroke-width="0" />
<rect x="458.33" y="270.17" width="19.49" height="33.33" fill="#f7ece6" stroke="none" stroke-width="0" />
<rect x="477.51" y="270.17" width="19.49" height="33.33" fill="#f7ece6" stroke="none" stroke-width="0" />
<rect x="362.4" y="204.1" width="134.3" height="99.1" fill="none" stroke="#8c8c8c" stroke-width="0.9" />
<line x1="371.99" y1="303.2" x2="371.99" y2="302" stroke="#777" stroke-width="0.5" />
<line x1="391.18" y1="303.2" x2="391.18" y2="302" stroke="#777" stroke-width="0.5" />
<line x1="410.36" y1="303.2" x2="410.36" y2="302" stroke="#777" stroke-width="0.5" />
<line x1="429.55" y1="303.2" x2="429.55" y2="302" stroke="#777" stroke-width="0.5" />
<line x1="448.74" y1="303.2" x2="448.74" y2="302" stroke="#777" stroke-width="0.5" />
<line x1="467.92" y1="303.2" x2="467.92" y2="302" stroke="#777" stroke-width="0.5" />
<line x1="487.11" y1="303.2" x2="487.11" y2="302" stroke="#777" stroke-width="0.5" />
<line x1="362.4" y1="220.62" x2="363.6" y2="220.62" stroke="#777" stroke-width="0.5" />
<line x1="362.4" y1="253.65" x2="363.6" y2="253.65" stroke="#777" stroke-width="0.5" />
<line x1="362.4" y1="286.68" x2="363.6" y2="286.68" stroke="#777" stroke-width="0.5" />
<text x="429.9" y="200.2" font-size="10.5" font-weight="bold" text-anchor="middle" fill="#231f20"  stroke="#231f20" stroke-width="0.113">PACT=100nM</text>
<rect x="510.8" y="204.1" width="19.59" height="33.33" fill="#f6e8e0" stroke="none" stroke-width="0" />
<rect x="530.09" y="204.1" width="19.59" height="33.33" fill="#f6e8e0" stroke="none" stroke-width="0" />
<rect x="549.37" y="204.1" width="19.59" height="33.33" fill="#f6e8e0" stroke="none" stroke-width="0" />
<rect x="568.66" y="204.1" width="19.59" height="33.33" fill="#f6e6de" stroke="none" stroke-width="0" />
<rect x="587.94" y="204.1" width="19.59" height="33.33" fill="#f6e4dc" stroke="none" stroke-width="0" />
<rect x="607.23" y="204.1" width="19.59" height="33.33" fill="#e95343" stroke="none" stroke-width="0" />
<rect x="626.51" y="204.1" width="19.59" height="33.33" fill="#f3c6b6" stroke="none" stroke-width="0" />
<rect x="510.8" y="237.13" width="19.59" height="33.33" fill="#f7ebe5" stroke="none" stroke-width="0" />
<rect x="530.09" y="237.13" width="19.59" height="33.33" fill="#f7ebe5" stroke="none" stroke-width="0" />
<rect x="549.37" y="237.13" width="19.59" height="33.33" fill="#f6e8e1" stroke="none" stroke-width="0" />
<rect x="568.66" y="237.13" width="19.59" height="33.33" fill="#f4d8cb" stroke="none" stroke-width="0" />
<rect x="587.94" y="237.13" width="19.59" height="33.33" fill="#f1bfae" stroke="none" stroke-width="0" />
<rect x="607.23" y="237.13" width="19.59" height="33.33" fill="#f6e7e0" stroke="none" stroke-width="0" />
<rect x="626.51" y="237.13" width="19.59" height="33.33" fill="#f7ebe5" stroke="none" stroke-width="0" />
<rect x="510.8" y="270.17" width="19.59" height="33.33" fill="#f8ede8" stroke="none" stroke-width="0" />
<rect x="530.09" y="270.17" width="19.59" height="33.33" fill="#f7ebe5" stroke="none" stroke-width="0" />
<rect x="549.37" y="270.17" width="19.59" height="33.33" fill="#f7ebe5" stroke="none" stroke-width="0" />
<rect x="568.66" y="270.17" width="19.59" height="33.33" fill="#f6eae4" stroke="none" stroke-width="0" />
<rect x="587.94" y="270.17" width="19.59" height="33.33" fill="#f6eae4" stroke="none" stroke-width="0" />
<rect x="607.23" y="270.17" width="19.59" height="33.33" fill="#f7ebe5" stroke="none" stroke-width="0" />
<rect x="626.51" y="270.17" width="19.59" height="33.33" fill="#f7ebe5" stroke="none" stroke-width="0" />
<rect x="510.8" y="204.1" width="135" height="99.1" fill="none" stroke="#8c8c8c" stroke-width="0.9" />
<line x1="520.44" y1="303.2" x2="520.44" y2="302" stroke="#777" stroke-width="0.5" />
<line x1="539.73" y1="303.2" x2="539.73" y2="302" stroke="#777" stroke-width="0.5" />
<line x1="559.01" y1="303.2" x2="559.01" y2="302" stroke="#777" stroke-width="0.5" />
<line x1="578.3" y1="303.2" x2="578.3" y2="302" stroke="#777" stroke-width="0.5" />
<line x1="597.59" y1="303.2" x2="597.59" y2="302" stroke="#777" stroke-width="0.5" />
<line x1="616.87" y1="303.2" x2="616.87" y2="302" stroke="#777" stroke-width="0.5" />
<line x1="636.16" y1="303.2" x2="636.16" y2="302" stroke="#777" stroke-width="0.5" />
<line x1="510.8" y1="220.62" x2="512" y2="220.62" stroke="#777" stroke-width="0.5" />
<line x1="510.8" y1="253.65" x2="512" y2="253.65" stroke="#777" stroke-width="0.5" />
<line x1="510.8" y1="286.68" x2="512" y2="286.68" stroke="#777" stroke-width="0.5" />
<text x="579.4" y="200.2" font-size="10.5" font-weight="bold" text-anchor="middle" fill="#231f20"  stroke="#231f20" stroke-width="0.113">PACT=250nM</text>
<linearGradient id="cb" x1="0" x2="0" y1="0" y2="1"><stop offset="0" stop-color="#67000d"/><stop offset="0.12" stop-color="#a50f15"/><stop offset="0.25" stop-color="#cb181d"/><stop offset="0.4" stop-color="#ef3b2c"/><stop offset="0.55" stop-color="#fb6a4a"/><stop offset="0.7" stop-color="#fc9272"/><stop offset="0.85" stop-color="#fcbba1"/><stop offset="1" stop-color="#fff5f0"/></linearGradient>
<rect x="654.5" y="203.9" width="4.8" height="98.6" fill="url(#cb)" stroke="none" stroke-width="0" />
<line x1="659.3" y1="208.6" x2="660.5" y2="208.6" stroke="#888" stroke-width="0.5" />
<line x1="659.3" y1="224.2" x2="660.5" y2="224.2" stroke="#888" stroke-width="0.5" />
<line x1="659.3" y1="239.8" x2="660.5" y2="239.8" stroke="#888" stroke-width="0.5" />
<line x1="659.3" y1="255.4" x2="660.5" y2="255.4" stroke="#888" stroke-width="0.5" />
<line x1="659.3" y1="271" x2="660.5" y2="271" stroke="#888" stroke-width="0.5" />
<line x1="659.3" y1="286.6" x2="660.5" y2="286.6" stroke="#888" stroke-width="0.5" />
<line x1="659.3" y1="302.2" x2="660.5" y2="302.2" stroke="#888" stroke-width="0.5" />
<text transform="translate(665,244.5) rotate(90)" font-size="10.6" text-anchor="middle" fill="#3a3a3a"  stroke="#3a3a3a" stroke-width="0.191">PKR activity</text>
<line x1="28.6" y1="303" x2="28.6" y2="212" stroke="#231f20" stroke-width="2.2" />
<polygon points="28.6,204.5 24.4,214 32.8,214" fill="#231f20"/>
<text transform="translate(20.5,257) rotate(-90)" font-size="10.45" text-anchor="middle" fill="#231f20"  stroke="#231f20" stroke-width="0.188">dsRNA length</text>
<text x="57.8" y="226.6" font-size="8.1" text-anchor="end" fill="#231f20"  stroke="#231f20" stroke-width="0.146">112 bp</text>
<text x="57.8" y="255.4" font-size="8.1" text-anchor="end" fill="#231f20"  stroke="#231f20" stroke-width="0.146">62 bp</text>
<text x="57.8" y="289" font-size="8.1" text-anchor="end" fill="#231f20"  stroke="#231f20" stroke-width="0.146">42 bp</text>
<line x1="66.5" y1="316" x2="181" y2="316" stroke="#231f20" stroke-width="2.2" />
<polygon points="190,316 180,311.8 180,320.2" fill="#231f20"/>
<text x="126.8" y="333.6" font-size="10.6" text-anchor="middle" fill="#231f20"  stroke="#231f20" stroke-width="0.191">dsRNA concentration</text>
<text transform="translate(4.4,363.15) scale(0.8163,1)" font-size="25.28" font-weight="bold" fill="#231f20" stroke="#231f20" stroke-width="0.5">C</text>
<line x1="34.4" y1="388.5" x2="34.4" y2="527.2" stroke="#000" stroke-width="1.3" />
<line x1="33.8" y1="526.6" x2="156.5" y2="526.6" stroke="#000" stroke-width="1.3" />
<line x1="28.8" y1="389.4" x2="34.4" y2="389.4" stroke="#000" stroke-width="1.2" />
<line x1="28.8" y1="458" x2="34.4" y2="458" stroke="#000" stroke-width="1.2" />
<line x1="28.8" y1="526.6" x2="34.4" y2="526.6" stroke="#000" stroke-width="1.2" />
<line x1="31.1" y1="412.27" x2="34.4" y2="412.27" stroke="#000" stroke-width="1.2" />
<line x1="31.1" y1="435.13" x2="34.4" y2="435.13" stroke="#000" stroke-width="1.2" />
<line x1="31.1" y1="480.87" x2="34.4" y2="480.87" stroke="#000" stroke-width="1.2" />
<line x1="31.1" y1="503.73" x2="34.4" y2="503.73" stroke="#000" stroke-width="1.2" />
<text x="26.4" y="393.1" font-size="10.3" text-anchor="end" fill="#000"  stroke="#000" stroke-width="0.185">10</text>
<text x="26.4" y="461.7" font-size="10.3" text-anchor="end" fill="#000"  stroke="#000" stroke-width="0.185">5</text>
<text x="26.4" y="530.3" font-size="10.3" text-anchor="end" fill="#000"  stroke="#000" stroke-width="0.185">0</text>
<text x="98" y="377.8" font-size="10.7" font-weight="bold" text-anchor="middle" fill="#231f20"  stroke="#231f20" stroke-width="0.116">dsRNA = 0.25 ng/µl</text>
<rect x="38.4" y="440.16" width="7.8" height="86.44" fill="#2f54a5" stroke="#111" stroke-width="0.8" />
<line x1="42.3" y1="481.32" x2="42.3" y2="399" stroke="#333" stroke-width="0.8" />
<line x1="40.1" y1="399" x2="44.5" y2="399" stroke="#333" stroke-width="0.8" />
<line x1="40.1" y1="481.32" x2="44.5" y2="481.32" stroke="#111" stroke-width="0.8" />
<circle cx="42.3" cy="444.28" r="2.45" fill="#fff" stroke="#000" stroke-width="1.25"/>
<circle cx="42.3" cy="451.83" r="2.45" fill="#fff" stroke="#000" stroke-width="1.25"/>
<circle cx="42.3" cy="481.32" r="2.45" fill="#fff" stroke="#000" stroke-width="1.25"/>
<line x1="42.3" y1="526.6" x2="42.3" y2="531.8" stroke="#000" stroke-width="1.2" />
<rect x="46.6" y="522.76" width="7.8" height="3.84" fill="#2f54a5" stroke="#111" stroke-width="0.8" />
<circle cx="50" cy="519.05" r="2.45" fill="#fff" stroke="#000" stroke-width="1.25"/>
<circle cx="50.5" cy="525.91" r="2.45" fill="#fff" stroke="#000" stroke-width="1.25"/>
<circle cx="53" cy="522.48" r="2.45" fill="#fff" stroke="#000" stroke-width="1.25"/>
<line x1="50.5" y1="526.6" x2="50.5" y2="531.8" stroke="#000" stroke-width="1.2" />
<rect x="54.9" y="522.21" width="7.8" height="4.39" fill="#2f54a5" stroke="#111" stroke-width="0.8" />
<circle cx="58.8" cy="514.94" r="2.45" fill="#fff" stroke="#000" stroke-width="1.25"/>
<circle cx="57.8" cy="521.11" r="2.45" fill="#fff" stroke="#000" stroke-width="1.25"/>
<circle cx="61.3" cy="522.48" r="2.45" fill="#fff" stroke="#000" stroke-width="1.25"/>
<line x1="58.8" y1="526.6" x2="58.8" y2="531.8" stroke="#000" stroke-width="1.2" />
<rect x="63.1" y="522.76" width="7.8" height="3.84" fill="#2f54a5" stroke="#111" stroke-width="0.8" />
<circle cx="65.5" cy="519.05" r="2.45" fill="#fff" stroke="#000" stroke-width="1.25"/>
<circle cx="67.5" cy="525.91" r="2.45" fill="#fff" stroke="#000" stroke-width="1.25"/>
<circle cx="70" cy="522.48" r="2.45" fill="#fff" stroke="#000" stroke-width="1.25"/>
<line x1="67" y1="526.6" x2="67" y2="531.8" stroke="#000" stroke-width="1.2" />
<rect x="79.4" y="503" width="7.8" height="23.6" fill="#29abe2" stroke="#111" stroke-width="0.8" />
<rect x="80.85" y="495.61" width="4.9" height="4.9" fill="#fff" stroke="#000" stroke-width="1.25"/>
<rect x="79.15" y="499.45" width="4.9" height="4.9" fill="#fff" stroke="#000" stroke-width="1.25"/>
<rect x="81.35" y="502.2" width="4.9" height="4.9" fill="#fff" stroke="#000" stroke-width="1.25"/>
<line x1="83.3" y1="526.6" x2="83.3" y2="531.8" stroke="#000" stroke-width="1.2" />
<rect x="87.5" y="501.22" width="7.8" height="25.38" fill="#29abe2" stroke="#111" stroke-width="0.8" />
<rect x="89.45" y="489.16" width="4.9" height="4.9" fill="#fff" stroke="#000" stroke-width="1.25"/>
<rect x="90.75" y="498.08" width="4.9" height="4.9" fill="#fff" stroke="#000" stroke-width="1.25"/>
<rect x="87.45" y="500.14" width="4.9" height="4.9" fill="#fff" stroke="#000" stroke-width="1.25"/>
<line x1="91.4" y1="526.6" x2="91.4" y2="531.8" stroke="#000" stroke-width="1.2" />
<rect x="95.6" y="501.22" width="7.8" height="25.38" fill="#29abe2" stroke="#111" stroke-width="0.8" />
<rect x="96.55" y="489.85" width="4.9" height="4.9" fill="#fff" stroke="#000" stroke-width="1.25"/>
<rect x="98.85" y="491.91" width="4.9" height="4.9" fill="#fff" stroke="#000" stroke-width="1.25"/>
<rect x="97.55" y="498.77" width="4.9" height="4.9" fill="#fff" stroke="#000" stroke-width="1.25"/>
<line x1="99.5" y1="526.6" x2="99.5" y2="531.8" stroke="#000" stroke-width="1.2" />
<rect x="103.7" y="523.17" width="7.8" height="3.43" fill="#29abe2" stroke="#111" stroke-width="0.8" />
<rect x="105.65" y="516.6" width="4.9" height="4.9" fill="#fff" stroke="#000" stroke-width="1.25"/>
<rect x="105.65" y="523.46" width="4.9" height="4.9" fill="#fff" stroke="#000" stroke-width="1.25"/>
<rect x="104.35" y="518.66" width="4.9" height="4.9" fill="#fff" stroke="#000" stroke-width="1.25"/>
<line x1="107.6" y1="526.6" x2="107.6" y2="531.8" stroke="#000" stroke-width="1.2" />
<rect x="120.3" y="521.8" width="7.8" height="4.8" fill="#1f6b3a" stroke="#111" stroke-width="0.8" />
<polygon points="124.2,511.75 121.8,515.92 126.6,515.92" fill="#fff" stroke="#000" stroke-width="1.2"/>
<polygon points="125.5,519.29 123.1,523.47 127.9,523.47" fill="#fff" stroke="#000" stroke-width="1.2"/>
<polygon points="123.5,522.72 121.1,526.9 125.9,526.9" fill="#fff" stroke="#000" stroke-width="1.2"/>
<line x1="124.2" y1="526.6" x2="124.2" y2="531.8" stroke="#000" stroke-width="1.2" />
<rect x="128.4" y="522.76" width="7.8" height="3.84" fill="#1f6b3a" stroke="#111" stroke-width="0.8" />
<polygon points="131.3,515.86 128.9,520.04 133.7,520.04" fill="#fff" stroke="#000" stroke-width="1.2"/>
<polygon points="133.8,519.29 131.4,523.47 136.2,523.47" fill="#fff" stroke="#000" stroke-width="1.2"/>
<polygon points="131.7,524.09 129.3,528.27 134.1,528.27" fill="#fff" stroke="#000" stroke-width="1.2"/>
<line x1="132.3" y1="526.6" x2="132.3" y2="531.8" stroke="#000" stroke-width="1.2" />
<rect x="136.7" y="523.86" width="7.8" height="2.74" fill="#1f6b3a" stroke="#111" stroke-width="0.8" />
<polygon points="140.6,518.61 138.2,522.78 143,522.78" fill="#fff" stroke="#000" stroke-width="1.2"/>
<polygon points="140.6,522.72 138.2,526.9 143,526.9" fill="#fff" stroke="#000" stroke-width="1.2"/>
<line x1="140.6" y1="526.6" x2="140.6" y2="531.8" stroke="#000" stroke-width="1.2" />
<rect x="145.1" y="523.58" width="7.8" height="3.02" fill="#1f6b3a" stroke="#111" stroke-width="0.8" />
<polygon points="149,518.61 146.6,522.78 151.4,522.78" fill="#fff" stroke="#000" stroke-width="1.2"/>
<polygon points="149.8,524.09 147.4,528.27 152.2,528.27" fill="#fff" stroke="#000" stroke-width="1.2"/>
<line x1="149" y1="526.6" x2="149" y2="531.8" stroke="#000" stroke-width="1.2" />
<polygon points="44.8,553.5 71.8,533.1 71.8,553.5" fill="#3f3f43"/>
<text transform="translate(53.3,552.03) scale(0.9255,1)" font-size="7.34" font-weight="bold" fill="#fff" >PACT</text>
<text transform="translate(49.2,564) rotate(-90)" font-size="4.3" text-anchor="start" fill="#333"  stroke="#333" stroke-width="0.077">0</text>
<text transform="translate(56.1,564) rotate(-90)" font-size="4.3" text-anchor="start" fill="#333"  stroke="#333" stroke-width="0.077">50</text>
<text transform="translate(63.8,564) rotate(-90)" font-size="4.3" text-anchor="start" fill="#333"  stroke="#333" stroke-width="0.077">100</text>
<text transform="translate(69.7,564) rotate(-90)" font-size="4.3" text-anchor="start" fill="#333"  stroke="#333" stroke-width="0.077">250</text>
<polygon points="82.4,553.5 109.2,533.1 109.2,553.5" fill="#3f3f43"/>
<text transform="translate(90.7,552.03) scale(0.9255,1)" font-size="7.34" font-weight="bold" fill="#fff" >PACT</text>
<text transform="translate(87.2,564) rotate(-90)" font-size="4.3" text-anchor="start" fill="#333"  stroke="#333" stroke-width="0.077">0</text>
<text transform="translate(93.8,564) rotate(-90)" font-size="4.3" text-anchor="start" fill="#333"  stroke="#333" stroke-width="0.077">50</text>
<text transform="translate(101.1,564) rotate(-90)" font-size="4.3" text-anchor="start" fill="#333"  stroke="#333" stroke-width="0.077">100</text>
<text transform="translate(107.6,564) rotate(-90)" font-size="4.3" text-anchor="start" fill="#333"  stroke="#333" stroke-width="0.077">250</text>
<polygon points="118.6,553.5 146,533.1 146,553.5" fill="#3f3f43"/>
<text transform="translate(127.5,552.03) scale(0.9255,1)" font-size="7.34" font-weight="bold" fill="#fff" >PACT</text>
<text transform="translate(123.1,564) rotate(-90)" font-size="4.3" text-anchor="start" fill="#333"  stroke="#333" stroke-width="0.077">0</text>
<text transform="translate(130,564) rotate(-90)" font-size="4.3" text-anchor="start" fill="#333"  stroke="#333" stroke-width="0.077">50</text>
<text transform="translate(137.7,564) rotate(-90)" font-size="4.3" text-anchor="start" fill="#333"  stroke="#333" stroke-width="0.077">100</text>
<text transform="translate(143.6,564) rotate(-90)" font-size="4.3" text-anchor="start" fill="#333"  stroke="#333" stroke-width="0.077">250</text>
<text x="47" y="412.1" font-size="7.6" font-weight="bold" text-anchor="start" fill="#3a54a4"  stroke="#3a54a4" stroke-width="0.082">112 bp</text>
<text x="84.3" y="480.4" font-size="7.6" font-weight="bold" text-anchor="start" fill="#29a8df"  stroke="#29a8df" stroke-width="0.082">62 bp</text>
<text x="124.5" y="503.7" font-size="7.6" font-weight="bold" text-anchor="start" fill="#16a050"  stroke="#16a050" stroke-width="0.082">42 bp</text>
<text x="27.5" y="563.2" font-size="6.3" text-anchor="start" fill="#222"  stroke="#222" stroke-width="0.113">(nM)</text>
<text transform="translate(8.7,457.9) rotate(-90)" font-size="11.1" text-anchor="middle" fill="#231f20"  stroke="#231f20" stroke-width="0.200">p-PKR</text>
<line x1="183.6" y1="404.6" x2="183.6" y2="525.3" stroke="#000" stroke-width="1.3" />
<line x1="183" y1="524.7" x2="290.8" y2="524.7" stroke="#000" stroke-width="1.3" />
<line x1="178" y1="405.1" x2="183.6" y2="405.1" stroke="#000" stroke-width="1.2" />
<line x1="178" y1="464.9" x2="183.6" y2="464.9" stroke="#000" stroke-width="1.2" />
<line x1="178" y1="524.7" x2="183.6" y2="524.7" stroke="#000" stroke-width="1.2" />
<line x1="180.3" y1="425.04" x2="183.6" y2="425.04" stroke="#000" stroke-width="1.2" />
<line x1="180.3" y1="444.96" x2="183.6" y2="444.96" stroke="#000" stroke-width="1.2" />
<line x1="180.3" y1="484.84" x2="183.6" y2="484.84" stroke="#000" stroke-width="1.2" />
<line x1="180.3" y1="504.76" x2="183.6" y2="504.76" stroke="#000" stroke-width="1.2" />
<text x="177.5" y="408.8" font-size="10.3" text-anchor="end" fill="#000"  stroke="#000" stroke-width="0.185">10</text>
<text x="177.5" y="468.6" font-size="10.3" text-anchor="end" fill="#000"  stroke="#000" stroke-width="0.185">5</text>
<text x="177.5" y="528.4" font-size="10.3" text-anchor="end" fill="#000"  stroke="#000" stroke-width="0.185">0</text>
<text x="244.2" y="376.2" font-size="10.7" font-weight="bold" text-anchor="middle" fill="#231f20"  stroke="#231f20" stroke-width="0.116">dsRNA = 5.0 ng/µl</text>
<rect x="186.7" y="438.59" width="7.8" height="86.11" fill="#2f54a5" stroke="#111" stroke-width="0.8" />
<line x1="190.6" y1="467.29" x2="190.6" y2="409.88" stroke="#333" stroke-width="0.8" />
<line x1="188.4" y1="409.88" x2="192.8" y2="409.88" stroke="#333" stroke-width="0.8" />
<line x1="188.4" y1="467.29" x2="192.8" y2="467.29" stroke="#111" stroke-width="0.8" />
<circle cx="190.6" cy="406.89" r="2.45" fill="#fff" stroke="#000" stroke-width="1.25"/>
<circle cx="190.6" cy="450.55" r="2.45" fill="#fff" stroke="#000" stroke-width="1.25"/>
<circle cx="190.6" cy="456.53" r="2.45" fill="#fff" stroke="#000" stroke-width="1.25"/>
<line x1="190.6" y1="524.7" x2="190.6" y2="529.9" stroke="#000" stroke-width="1.2" />
<rect x="193.9" y="464.9" width="7.8" height="59.8" fill="#2f54a5" stroke="#111" stroke-width="0.8" />
<line x1="197.8" y1="472.08" x2="197.8" y2="457.72" stroke="#333" stroke-width="0.8" />
<line x1="195.6" y1="457.72" x2="200" y2="457.72" stroke="#333" stroke-width="0.8" />
<line x1="195.6" y1="472.08" x2="200" y2="472.08" stroke="#111" stroke-width="0.8" />
<circle cx="197.8" cy="460.12" r="2.45" fill="#fff" stroke="#000" stroke-width="1.25"/>
<circle cx="197.8" cy="465.5" r="2.45" fill="#fff" stroke="#000" stroke-width="1.25"/>
<circle cx="197.8" cy="476.86" r="2.45" fill="#fff" stroke="#000" stroke-width="1.25"/>
<line x1="197.8" y1="524.7" x2="197.8" y2="529.9" stroke="#000" stroke-width="1.2" />
<rect x="201.1" y="445.76" width="7.8" height="78.94" fill="#2f54a5" stroke="#111" stroke-width="0.8" />
<line x1="205" y1="462.51" x2="205" y2="429.02" stroke="#333" stroke-width="0.8" />
<line x1="202.8" y1="429.02" x2="207.2" y2="429.02" stroke="#333" stroke-width="0.8" />
<line x1="202.8" y1="462.51" x2="207.2" y2="462.51" stroke="#111" stroke-width="0.8" />
<circle cx="205" cy="429.62" r="2.45" fill="#fff" stroke="#000" stroke-width="1.25"/>
<circle cx="205" cy="444.57" r="2.45" fill="#fff" stroke="#000" stroke-width="1.25"/>
<circle cx="205" cy="458.92" r="2.45" fill="#fff" stroke="#000" stroke-width="1.25"/>
<line x1="205" y1="524.7" x2="205" y2="529.9" stroke="#000" stroke-width="1.2" />
<rect x="208.3" y="440.38" width="7.8" height="84.32" fill="#2f54a5" stroke="#111" stroke-width="0.8" />
<line x1="212.2" y1="452.94" x2="212.2" y2="427.82" stroke="#333" stroke-width="0.8" />
<line x1="210" y1="427.82" x2="214.4" y2="427.82" stroke="#333" stroke-width="0.8" />
<line x1="210" y1="452.94" x2="214.4" y2="452.94" stroke="#111" stroke-width="0.8" />
<circle cx="211.2" cy="432.01" r="2.45" fill="#fff" stroke="#000" stroke-width="1.25"/>
<circle cx="213.5" cy="432.61" r="2.45" fill="#fff" stroke="#000" stroke-width="1.25"/>
<circle cx="212.2" cy="455.33" r="2.45" fill="#fff" stroke="#000" stroke-width="1.25"/>
<line x1="212.2" y1="524.7" x2="212.2" y2="529.9" stroke="#000" stroke-width="1.2" />
<rect x="222.1" y="521.11" width="7.8" height="3.59" fill="#29abe2" stroke="#111" stroke-width="0.8" />
<rect x="223.55" y="516.87" width="4.9" height="4.9" fill="#fff" stroke="#000" stroke-width="1.25"/>
<rect x="222.35" y="518.66" width="4.9" height="4.9" fill="#fff" stroke="#000" stroke-width="1.25"/>
<rect x="224.55" y="519.86" width="4.9" height="4.9" fill="#fff" stroke="#000" stroke-width="1.25"/>
<line x1="226" y1="524.7" x2="226" y2="529.9" stroke="#000" stroke-width="1.2" />
<rect x="229.5" y="520.51" width="7.8" height="4.19" fill="#29abe2" stroke="#111" stroke-width="0.8" />
<rect x="230.95" y="514.48" width="4.9" height="4.9" fill="#fff" stroke="#000" stroke-width="1.25"/>
<rect x="230.15" y="516.87" width="4.9" height="4.9" fill="#fff" stroke="#000" stroke-width="1.25"/>
<rect x="231.75" y="521.65" width="4.9" height="4.9" fill="#fff" stroke="#000" stroke-width="1.25"/>
<line x1="233.4" y1="524.7" x2="233.4" y2="529.9" stroke="#000" stroke-width="1.2" />
<rect x="236.7" y="521.11" width="7.8" height="3.59" fill="#29abe2" stroke="#111" stroke-width="0.8" />
<rect x="238.15" y="516.27" width="4.9" height="4.9" fill="#fff" stroke="#000" stroke-width="1.25"/>
<rect x="237.65" y="522.25" width="4.9" height="4.9" fill="#fff" stroke="#000" stroke-width="1.25"/>
<rect x="239.15" y="518.66" width="4.9" height="4.9" fill="#fff" stroke="#000" stroke-width="1.25"/>
<line x1="240.6" y1="524.7" x2="240.6" y2="529.9" stroke="#000" stroke-width="1.2" />
<rect x="244.1" y="520.51" width="7.8" height="4.19" fill="#29abe2" stroke="#111" stroke-width="0.8" />
<rect x="245.55" y="515.07" width="4.9" height="4.9" fill="#fff" stroke="#000" stroke-width="1.25"/>
<rect x="245.55" y="517.47" width="4.9" height="4.9" fill="#fff" stroke="#000" stroke-width="1.25"/>
<rect x="245.55" y="518.66" width="4.9" height="4.9" fill="#fff" stroke="#000" stroke-width="1.25"/>
<line x1="248" y1="524.7" x2="248" y2="529.9" stroke="#000" stroke-width="1.2" />
<rect x="257.7" y="522.31" width="7.8" height="2.39" fill="#1f6b3a" stroke="#111" stroke-width="0.8" />
<polygon points="261.6,518.61 259.2,522.78 264,522.78" fill="#fff" stroke="#000" stroke-width="1.2"/>
<polygon points="262.8,521 260.4,525.17 265.2,525.17" fill="#fff" stroke="#000" stroke-width="1.2"/>
<polygon points="260.8,520.4 258.4,524.58 263.2,524.58" fill="#fff" stroke="#000" stroke-width="1.2"/>
<line x1="261.6" y1="524.7" x2="261.6" y2="529.9" stroke="#000" stroke-width="1.2" />
<rect x="264.8" y="522.31" width="7.8" height="2.39" fill="#1f6b3a" stroke="#111" stroke-width="0.8" />
<polygon points="268.7,514.42 266.3,518.6 271.1,518.6" fill="#fff" stroke="#000" stroke-width="1.2"/>
<polygon points="268.7,518.01 266.3,522.18 271.1,522.18" fill="#fff" stroke="#000" stroke-width="1.2"/>
<polygon points="269.2,521 266.8,525.17 271.6,525.17" fill="#fff" stroke="#000" stroke-width="1.2"/>
<line x1="268.7" y1="524.7" x2="268.7" y2="529.9" stroke="#000" stroke-width="1.2" />
<rect x="272.1" y="523.5" width="7.8" height="1.2" fill="#1f6b3a" stroke="#111" stroke-width="0.8" />
<polygon points="276,521 273.6,525.17 278.4,525.17" fill="#fff" stroke="#000" stroke-width="1.2"/>
<polygon points="275.2,522.19 272.8,526.37 277.6,526.37" fill="#fff" stroke="#000" stroke-width="1.2"/>
<line x1="276" y1="524.7" x2="276" y2="529.9" stroke="#000" stroke-width="1.2" />
<rect x="279.5" y="522.31" width="7.8" height="2.39" fill="#1f6b3a" stroke="#111" stroke-width="0.8" />
<polygon points="283.4,516.81 281,520.99 285.8,520.99" fill="#fff" stroke="#000" stroke-width="1.2"/>
<polygon points="283.4,518.61 281,522.78 285.8,522.78" fill="#fff" stroke="#000" stroke-width="1.2"/>
<line x1="283.4" y1="524.7" x2="283.4" y2="529.9" stroke="#000" stroke-width="1.2" />
<polygon points="190.6,553.7 218.4,532.8 218.4,553.7" fill="#3f3f43"/>
<text transform="translate(199.9,552.23) scale(0.9255,1)" font-size="7.34" font-weight="bold" fill="#fff" >PACT</text>
<text transform="translate(196.5,563.7) rotate(-90)" font-size="4.3" text-anchor="start" fill="#333"  stroke="#333" stroke-width="0.077">0</text>
<text transform="translate(202.6,563.7) rotate(-90)" font-size="4.3" text-anchor="start" fill="#333"  stroke="#333" stroke-width="0.077">50</text>
<text transform="translate(209.3,563.7) rotate(-90)" font-size="4.3" text-anchor="start" fill="#333"  stroke="#333" stroke-width="0.077">100</text>
<text transform="translate(215.4,563.7) rotate(-90)" font-size="4.3" text-anchor="start" fill="#333"  stroke="#333" stroke-width="0.077">250</text>
<polygon points="227.6,553.7 255.7,532.8 255.7,553.7" fill="#3f3f43"/>
<text transform="translate(237.2,552.23) scale(0.9255,1)" font-size="7.34" font-weight="bold" fill="#fff" >PACT</text>
<text transform="translate(233.9,563.7) rotate(-90)" font-size="4.3" text-anchor="start" fill="#333"  stroke="#333" stroke-width="0.077">0</text>
<text transform="translate(239.8,563.7) rotate(-90)" font-size="4.3" text-anchor="start" fill="#333"  stroke="#333" stroke-width="0.077">50</text>
<text transform="translate(246.7,563.7) rotate(-90)" font-size="4.3" text-anchor="start" fill="#333"  stroke="#333" stroke-width="0.077">100</text>
<text transform="translate(253.6,563.7) rotate(-90)" font-size="4.3" text-anchor="start" fill="#333"  stroke="#333" stroke-width="0.077">250</text>
<polygon points="264.5,553.7 292.3,532.8 292.3,553.7" fill="#3f3f43"/>
<text transform="translate(273.8,552.23) scale(0.9255,1)" font-size="7.34" font-weight="bold" fill="#fff" >PACT</text>
<text transform="translate(270.8,563.7) rotate(-90)" font-size="4.3" text-anchor="start" fill="#333"  stroke="#333" stroke-width="0.077">0</text>
<text transform="translate(277.2,563.7) rotate(-90)" font-size="4.3" text-anchor="start" fill="#333"  stroke="#333" stroke-width="0.077">50</text>
<text transform="translate(283.7,563.7) rotate(-90)" font-size="4.3" text-anchor="start" fill="#333"  stroke="#333" stroke-width="0.077">100</text>
<text transform="translate(290.6,563.7) rotate(-90)" font-size="4.3" text-anchor="start" fill="#333"  stroke="#333" stroke-width="0.077">250</text>
<text x="190.3" y="400.4" font-size="7.6" font-weight="bold" text-anchor="start" fill="#3a54a4"  stroke="#3a54a4" stroke-width="0.082">112 bp</text>
<text x="228.7" y="493.1" font-size="7.6" font-weight="bold" text-anchor="start" fill="#29a8df"  stroke="#29a8df" stroke-width="0.082">62 bp</text>
<text x="263.2" y="502.8" font-size="7.6" font-weight="bold" text-anchor="start" fill="#16a050"  stroke="#16a050" stroke-width="0.082">42 bp</text>
<text transform="translate(161.5,465.1) rotate(-90)" font-size="9.8" text-anchor="middle" fill="#231f20"  stroke="#231f20" stroke-width="0.176">p-PKR</text>
<text transform="translate(354.8,362.8) scale(0.8072,1)" font-size="24.71" font-weight="bold" fill="#231f20" stroke="#231f20" stroke-width="0.5">D</text>
<radialGradient id="glow"><stop offset="0" stop-color="#94b07f" stop-opacity="0.95"/><stop offset="0.35" stop-color="#b9c9ad" stop-opacity="0.7"/><stop offset="0.7" stop-color="#dfe5da" stop-opacity="0.45"/><stop offset="1" stop-color="#ffffff" stop-opacity="0"/></radialGradient>
<circle cx="391.5" cy="382.5" r="21" fill="url(#glow)"/>
<line x1="383.7" y1="386" x2="383.7" y2="509" stroke="#8a8a8a" stroke-width="1.9" />
<line x1="389.9" y1="383.5" x2="389.9" y2="508.3" stroke="#8a8a8a" stroke-width="1.9" />
<polygon points="392.3,379.5 393.2,381.66 395.53,381.85 393.76,383.37 394.3,385.65 392.3,384.43 390.3,385.65 390.84,383.37 389.07,381.85 391.4,381.66" fill="#2bb24c" stroke="#1d3a22" stroke-width="0.6"/>
<text x="379.9" y="374" font-size="7.7" font-weight="bold" text-anchor="start" fill="#1f9a4a"  stroke="#1f9a4a" stroke-width="0.083">Cy3</text>
<text x="402.6" y="379.6" font-size="8.0" font-weight="bold" text-anchor="start" fill="#231f20"  stroke="#231f20" stroke-width="0.086">FRET</text>
<path d="M399.9,384.9 C405.8,386.2 409.9,390.5 410.2,397 L409.9,403" fill="none" stroke="#231f20" stroke-width="3.1"/>
<polygon points="404.9,400.6 409.8,403.2 415.8,399.8 408.3,411.4" fill="#231f20"/>
<path d="M379.5,402 C374.5,404 373.5,411 379.5,415" fill="none" stroke="#1a6ea8" stroke-width="0.7"/>
<ellipse cx="379.3" cy="403.6" rx="3.9" ry="2.5" transform="rotate(-30 379.3 403.6)" fill="#1a6ea8"/>
<ellipse cx="379.6" cy="415.0" rx="3.9" ry="2.5" transform="rotate(30 379.6 415)" fill="#1a6ea8"/>
<rect x="385.1" y="413.1" width="18.6" height="8.2" rx="4" fill="#2a9ad8" stroke="#1f6fa0" stroke-width="0.4"/>
<polygon points="405.3,414.1 406.15,416.14 408.34,416.31 406.67,417.74 407.18,419.89 405.3,418.74 403.42,419.89 403.93,417.74 402.26,416.31 404.45,416.14" fill="#c1272d" stroke="#2a1010" stroke-width="0.5"/>
<text x="410.8" y="420.7" font-size="7.9" font-weight="bold" text-anchor="start" fill="#e11f2e"  stroke="#e11f2e" stroke-width="0.085">Cy5</text>
<text x="392.1" y="431.5" font-size="7.8" text-anchor="start" fill="#2a95d5"  stroke="#2a95d5" stroke-width="0.140">PKR</text>
<polygon points="376.6,385.3 373.7,390.8 379.5,390.8" fill="#231f20"/>
<polygon points="376.6,437.0 373.7,431.5 379.5,431.5" fill="#231f20"/>
<rect x="375.7" y="394.7" width="1.8" height="1.8" fill="#231f20" stroke="none" stroke-width="0" />
<rect x="375.7" y="398.9" width="1.8" height="1.8" fill="#231f20" stroke="none" stroke-width="0" />
<rect x="375.7" y="421.3" width="1.8" height="1.8" fill="#231f20" stroke="none" stroke-width="0" />
<rect x="375.7" y="425.7" width="1.8" height="1.8" fill="#231f20" stroke="none" stroke-width="0" />
<text transform="translate(371.4,409.9) rotate(-90)" font-size="5.1" text-anchor="middle" fill="#333"  stroke="#333" stroke-width="0.092">dsRNA scanning</text>
<path d="M393.2,457.6 C398.5,458.5 398.2,463.2 394.2,463.2" fill="none" stroke="#231f20" stroke-width="1"/>
<path d="M393.2,486.3 C398.5,487.2 398.2,491.8 394.2,491.8" fill="none" stroke="#231f20" stroke-width="1"/>
<path d="M387.8,469.6 L390.6,472.4 M387.8,478.4 L390.6,475.8" stroke="#231f20" stroke-width="0.9"/>
<ellipse cx="390.0" cy="454.6" rx="3.4" ry="5.1" transform="rotate(-25 390.0 454.6)" fill="#f08a2c" stroke="#5f9a3a" stroke-width="0.35"/>
<ellipse cx="390.4" cy="465.6" rx="3.4" ry="5.1" transform="rotate(25 390.4 465.6)" fill="#f08a2c" stroke="#5f9a3a" stroke-width="0.35"/>
<ellipse cx="390.4" cy="483.3" rx="3.4" ry="5.1" transform="rotate(-25 390.4 483.3)" fill="#f08a2c" stroke="#5f9a3a" stroke-width="0.35"/>
<ellipse cx="390.2" cy="494.2" rx="3.4" ry="5.1" transform="rotate(25 390.2 494.2)" fill="#f08a2c" stroke="#5f9a3a" stroke-width="0.35"/>
<ellipse cx="395.6" cy="472.1" rx="5.1" ry="2.6" fill="#dfe23a" stroke="#8cc63f" stroke-width="0.4"/>
<ellipse cx="395.6" cy="477.3" rx="5.1" ry="2.6" fill="#dfe23a" stroke="#8cc63f" stroke-width="0.4"/>
<text x="397" y="495.8" font-size="7.7" text-anchor="start" fill="#f08a2c"  stroke="#f08a2c" stroke-width="0.139">PACT</text>
<path d="M379.6,509.4 L386.4,509.4 L387.5,511 L387.5,517 L386.4,518.6 L379.6,518.6 L378.5,517 L378.5,511 Z" fill="#fff" stroke="#231f20" stroke-width="0.7"/>
<circle cx="383" cy="511.6" r="2.2" fill="#fff" stroke="#231f20" stroke-width="0.7"/>
<circle cx="383" cy="517" r="2.2" fill="#fff" stroke="#231f20" stroke-width="0.7"/>
<text x="393" y="517.9" font-size="7.6" text-anchor="start" fill="#333"  stroke="#333" stroke-width="0.137">Biotin</text>
<rect x="361.2" y="520.4" width="48.3" height="4.2" fill="#fff" stroke="#231f20" stroke-width="0.9" />
<rect x="474.4" y="354.2" width="157.1" height="91.4" fill="#fff" stroke="#8a8a8a" stroke-width="0.8" />
<line x1="519.29" y1="354.2" x2="519.29" y2="445.6" stroke="#d4d4d4" stroke-width="0.7" />
<line x1="564.17" y1="354.2" x2="564.17" y2="445.6" stroke="#d4d4d4" stroke-width="0.7" />
<line x1="609.06" y1="354.2" x2="609.06" y2="445.6" stroke="#d4d4d4" stroke-width="0.7" />
<line x1="474.4" y1="415.13" x2="631.5" y2="415.13" stroke="#d4d4d4" stroke-width="0.7" />
<line x1="474.4" y1="384.67" x2="631.5" y2="384.67" stroke="#d4d4d4" stroke-width="0.7" />
<line x1="474.4" y1="354.2" x2="474.4" y2="445.6" stroke="#444" stroke-width="1.0" />
<line x1="474.4" y1="445.6" x2="631.5" y2="445.6" stroke="#444" stroke-width="1.0" />
<line x1="471.9" y1="445.6" x2="474.4" y2="445.6" stroke="#444" stroke-width="0.8" />
<text x="471.4" y="448.9" font-size="9.4" text-anchor="end" fill="#231f20"  stroke="#231f20" stroke-width="0.169">0</text>
<line x1="471.9" y1="415.13" x2="474.4" y2="415.13" stroke="#444" stroke-width="0.8" />
<text x="471.4" y="418.43" font-size="9.4" text-anchor="end" fill="#231f20"  stroke="#231f20" stroke-width="0.169">200</text>
<line x1="471.9" y1="384.67" x2="474.4" y2="384.67" stroke="#444" stroke-width="0.8" />
<text x="471.4" y="387.97" font-size="9.4" text-anchor="end" fill="#231f20"  stroke="#231f20" stroke-width="0.169">400</text>
<line x1="471.9" y1="354.2" x2="474.4" y2="354.2" stroke="#444" stroke-width="0.8" />
<text x="471.4" y="357.5" font-size="9.4" text-anchor="end" fill="#231f20"  stroke="#231f20" stroke-width="0.169">600</text>
<line x1="474.4" y1="445.6" x2="474.4" y2="447.6" stroke="#444" stroke-width="0.8" />
<line x1="519.29" y1="445.6" x2="519.29" y2="447.6" stroke="#444" stroke-width="0.8" />
<line x1="564.17" y1="445.6" x2="564.17" y2="447.6" stroke="#444" stroke-width="0.8" />
<line x1="609.06" y1="445.6" x2="609.06" y2="447.6" stroke="#444" stroke-width="0.8" />
<text transform="translate(443.7,394.6) rotate(-90)" font-size="10.5" text-anchor="middle" fill="#231f20"  stroke="#231f20" stroke-width="0.189">intensity</text>
<text transform="translate(451.3,393.5) rotate(-90)" font-size="9.8" text-anchor="middle" fill="#231f20"  stroke="#231f20" stroke-width="0.176">(arb.units)</text>
<text x="474.7" y="339.7" font-size="8.1" font-weight="bold" text-anchor="start" fill="#1f9a4d"  stroke="#1f9a4d" stroke-width="0.087">Cy3 (donor)</text>
<text x="474.7" y="349.6" font-size="8.1" font-weight="bold" text-anchor="start" fill="#e5202e"  stroke="#e5202e" stroke-width="0.087">Cy5 (acceptor)</text>
<polygon points="499,370.6 509.8,364.3 509.8,369.1 587.3,369.1 587.3,364.3 597.8,370.6 587.3,376.9 587.3,372.1 509.8,372.1 509.8,376.9" fill="#c6c6c6"/>
<text x="547.2" y="365.9" font-size="8.2" font-weight="bold" text-anchor="middle" fill="#5a5a5a"  stroke="#5a5a5a" stroke-width="0.089">On</text>
<polyline points="474.4,383.33 475.13,377.91 475.87,370.36 476.6,383.85 477.34,362.32 478.07,376.09 478.8,379.98 479.54,372.9 480.27,371.92 481.01,372.41 481.74,384.82 482.48,373.99 483.21,354.96 483.94,384.08 484.68,374.71 485.41,381.67 486.15,359.75 486.88,373.99 487.61,366.4 488.35,369.25 489.08,368.16 489.82,376.88 490.55,371.85 491.28,378.56 492.02,369.5 492.75,365.98 493.49,372.61 494.22,376.5 494.96,372.14 495.69,382.65 496.42,372.66 497.16,417.39 497.89,403.68 498.63,402.04 499.36,403.7 500.09,417.54 500.83,400.71 501.56,406.88 502.3,405.8 503.03,417.61 503.76,394.26 504.5,400.65 505.23,416.02 505.97,401.56 506.7,423.81 507.44,414.98 508.17,405.93 508.9,410.52 509.64,414.6 510.37,400.33 511.11,414.6 511.84,409.91 512.57,416.66 513.31,410.03 514.04,422.35 514.78,407.4 515.51,412.19 516.24,425.99 516.98,400.06 517.71,405.3 518.45,416.08 519.18,415.99 519.91,397.23 520.65,418.06 521.38,423.51 522.12,405.59 522.85,416.25 523.59,418.94 524.32,411.36 525.05,401.53 525.79,402.97 526.52,406.17 527.26,409.01 527.99,425.59 528.72,416.51 529.46,405.26 530.19,415.37 530.93,407.21 531.66,409.74 532.39,417.01 533.13,403.85 533.86,410.54 534.6,413.62 535.33,400.01 536.07,412.8 536.8,415.75 537.53,416.46 538.27,418.61 539,413.15 539.74,410.66 540.47,412.29 541.2,405.07 541.94,419.99 542.67,403.79 543.41,401.32 544.14,405.83 544.87,417.68 545.61,419.74 546.34,414.02 547.08,423.79 547.81,407.96 548.55,413.63 549.28,417.76 550.01,416.32 550.75,422.47 551.48,411.2 552.22,410.02 552.95,400.93 553.68,422.26 554.42,420.18 555.15,408.56 555.89,403.08 556.62,416.69 557.35,418.63 558.09,403.03 558.82,398.41 559.56,415.44 560.29,413.14 561.03,403.22 561.76,404.12 562.49,412.24 563.23,413.03 563.96,412.26 564.7,406.09 565.43,417.25 566.16,402.45 566.9,411.06 567.63,406.7 568.37,417.18 569.1,404.52 569.83,411.34 570.57,412.72 571.3,415.3 572.04,402.04 572.77,405.72 573.51,415.23 574.24,406.43 574.97,397.09 575.71,408.53 576.44,400.31 577.18,407.78 577.91,414.77 578.64,406.76 579.38,425.07 580.11,422.87 580.85,411.51 581.58,409.84 582.31,413.95 583.05,409.47 583.78,428.93 584.52,395.72 585.25,408.57 585.99,418.56 586.72,411.99 587.45,408.17 588.19,418.3 588.92,412.53 589.66,418.99 590.39,416.12 591.12,416.08 591.86,412.11 592.59,423.21 593.33,400.09 594.06,422.33 594.79,411.77 595.53,404.86 596.26,417.5 597,394.94 597.73,416.11 598.46,412.73 599.2,414.83 599.93,411.51 600.67,411.61 601.4,409.92 602.14,411.41 602.87,383.66 603.6,370.01 604.34,383.68 605.07,363.99 605.81,373.59 606.54,382.88 607.27,383.54 608.01,385.01 608.74,388.94 609.48,381.22 610.21,378.61 610.94,393.38 611.68,383.3 612.41,366.05 613.15,377.14 613.88,398.59 614.62,389.29 615.35,383.85 616.08,386.77 616.82,384.72 617.55,376.89 618.29,387.77 619.02,390.08 619.75,381.41 620.49,370.3 621.22,384.7 621.96,389.88 622.69,380.75 623.42,359.59 624.16,378.24 624.89,372.91 625.63,383.71 626.36,374.95 627.1,386.93 627.83,374.08 628.56,377.42 629.3,390.78 630.03,386.09 630.77,387.66 631.5,407.52" fill="none" stroke="#4caf50" stroke-width="1.05" stroke-linejoin="round"/>
<polyline points="474.4,434.26 475.13,438.68 475.87,432.4 476.6,433.41 477.34,432.7 478.07,428.58 478.8,438.19 479.54,436.13 480.27,433.45 481.01,439.88 481.74,435.69 482.48,437.26 483.21,435.37 483.94,435.99 484.68,434.28 485.41,433.78 486.15,436.55 486.88,432.77 487.61,435.56 488.35,434.88 489.08,434.03 489.82,433.8 490.55,434.7 491.28,437.87 492.02,431.33 492.75,433.23 493.49,433.24 494.22,437.04 494.96,432.73 495.69,428.94 496.42,433.29 497.16,410.87 497.89,406.37 498.63,414.43 499.36,411.86 500.09,408.96 500.83,415.77 501.56,411.12 502.3,397.58 503.03,412.52 503.76,406.87 504.5,410.71 505.23,412.86 505.97,406.67 506.7,414.17 507.44,407.04 508.17,409.81 508.9,407.91 509.64,411.53 510.37,402.3 511.11,417.04 511.84,398.29 512.57,423.67 513.31,419.08 514.04,391.17 514.78,411.22 515.51,418.78 516.24,415.24 516.98,416.74 517.71,405.58 518.45,414.06 519.18,403.4 519.91,410.73 520.65,410.94 521.38,406.44 522.12,402.95 522.85,409.79 523.59,419.54 524.32,409.43 525.05,409.28 525.79,414.76 526.52,414.03 527.26,404.74 527.99,406.31 528.72,412.64 529.46,404.71 530.19,423.29 530.93,414.45 531.66,404.73 532.39,414.44 533.13,410.94 533.86,409.15 534.6,417.15 535.33,407.32 536.07,409.92 536.8,409.18 537.53,414.59 538.27,405.38 539,413.61 539.74,404.07 540.47,413.62 541.2,412.42 541.94,416.33 542.67,408.31 543.41,413.87 544.14,418.74 544.87,405.29 545.61,404.51 546.34,413.28 547.08,415.75 547.81,398.8 548.55,419.7 549.28,399.38 550.01,405.13 550.75,413.17 551.48,409.53 552.22,413.47 552.95,385.43 553.68,411.17 554.42,404.24 555.15,410.99 555.89,412.47 556.62,415.37 557.35,412.29 558.09,419.99 558.82,403.71 559.56,411.88 560.29,411.29 561.03,411.52 561.76,416.14 562.49,412.15 563.23,398.28 563.96,404.1 564.7,405.53 565.43,409.55 566.16,407.68 566.9,411.42 567.63,412.12 568.37,404.24 569.1,405.56 569.83,406.62 570.57,414.28 571.3,410.85 572.04,414.6 572.77,416.33 573.51,410.84 574.24,413 574.97,406.35 575.71,412.17 576.44,410.41 577.18,415.25 577.91,417.09 578.64,409.85 579.38,407.6 580.11,410.59 580.85,409.47 581.58,409.32 582.31,413.06 583.05,406.86 583.78,408.06 584.52,405.14 585.25,413.11 585.99,410.82 586.72,378.57 587.45,404.78 588.19,409.15 588.92,410.33 589.66,413.32 590.39,414.31 591.12,400.4 591.86,398.2 592.59,408.05 593.33,417.09 594.06,409.72 594.79,412.33 595.53,405.13 596.26,416.13 597,412.76 597.73,416.27 598.46,402.4 599.2,419.11 599.93,416.98 600.67,404.71 601.4,412.03 602.14,398.34 602.87,431.65 603.6,435.05 604.34,438.51 605.07,433.27 605.81,433.46 606.54,435.52 607.27,438.38 608.01,433.35 608.74,435.8 609.48,434.52 610.21,432.53 610.94,431.41 611.68,428.73 612.41,432.43 613.15,433.03 613.88,435.83 614.62,430.21 615.35,435.71 616.08,434.69 616.82,435.17 617.55,436.88 618.29,436.27 619.02,428.54 619.75,436.84 620.49,434.16 621.22,433.34 621.96,438.01 622.69,436.62 623.42,430.35 624.16,434.71 624.89,435.8 625.63,435.2 626.36,438.41 627.1,432.82 627.83,435.1 628.56,434.35 629.3,434.73 630.03,434.02 630.77,439.37 631.5,409.04" fill="none" stroke="#e3202e" stroke-width="1.05" stroke-linejoin="round"/>
<rect x="474.4" y="454.4" width="157.1" height="88.1" fill="#fff" stroke="#8a8a8a" stroke-width="0.8" />
<line x1="519.29" y1="454.4" x2="519.29" y2="542.5" stroke="#d4d4d4" stroke-width="0.7" />
<line x1="564.17" y1="454.4" x2="564.17" y2="542.5" stroke="#d4d4d4" stroke-width="0.7" />
<line x1="609.06" y1="454.4" x2="609.06" y2="542.5" stroke="#d4d4d4" stroke-width="0.7" />
<line x1="474.4" y1="524.88" x2="631.5" y2="524.88" stroke="#d4d4d4" stroke-width="0.7" />
<line x1="474.4" y1="507.26" x2="631.5" y2="507.26" stroke="#d4d4d4" stroke-width="0.7" />
<line x1="474.4" y1="489.64" x2="631.5" y2="489.64" stroke="#d4d4d4" stroke-width="0.7" />
<line x1="474.4" y1="472.02" x2="631.5" y2="472.02" stroke="#d4d4d4" stroke-width="0.7" />
<line x1="474.4" y1="454.4" x2="474.4" y2="542.5" stroke="#444" stroke-width="1.0" />
<line x1="474.4" y1="542.5" x2="631.5" y2="542.5" stroke="#444" stroke-width="1.0" />
<line x1="471.9" y1="542.5" x2="474.4" y2="542.5" stroke="#444" stroke-width="0.8" />
<text x="471.4" y="545.8" font-size="9.4" text-anchor="end" fill="#231f20"  stroke="#231f20" stroke-width="0.169">0</text>
<line x1="471.9" y1="524.88" x2="474.4" y2="524.88" stroke="#444" stroke-width="0.8" />
<text x="471.4" y="528.18" font-size="9.4" text-anchor="end" fill="#231f20"  stroke="#231f20" stroke-width="0.169">0.2</text>
<line x1="471.9" y1="507.26" x2="474.4" y2="507.26" stroke="#444" stroke-width="0.8" />
<text x="471.4" y="510.56" font-size="9.4" text-anchor="end" fill="#231f20"  stroke="#231f20" stroke-width="0.169">0.4</text>
<line x1="471.9" y1="489.64" x2="474.4" y2="489.64" stroke="#444" stroke-width="0.8" />
<text x="471.4" y="492.94" font-size="9.4" text-anchor="end" fill="#231f20"  stroke="#231f20" stroke-width="0.169">0.6</text>
<line x1="471.9" y1="472.02" x2="474.4" y2="472.02" stroke="#444" stroke-width="0.8" />
<text x="471.4" y="475.32" font-size="9.4" text-anchor="end" fill="#231f20"  stroke="#231f20" stroke-width="0.169">0.8</text>
<line x1="471.9" y1="454.4" x2="474.4" y2="454.4" stroke="#444" stroke-width="0.8" />
<text x="471.4" y="457.7" font-size="9.4" text-anchor="end" fill="#231f20"  stroke="#231f20" stroke-width="0.169">1</text>
<line x1="474.4" y1="542.5" x2="474.4" y2="544.5" stroke="#444" stroke-width="0.8" />
<text x="475" y="552.8" font-size="9.4" text-anchor="middle" fill="#231f20"  stroke="#231f20" stroke-width="0.169">0</text>
<line x1="519.29" y1="542.5" x2="519.29" y2="544.5" stroke="#444" stroke-width="0.8" />
<text x="519.89" y="552.8" font-size="9.4" text-anchor="middle" fill="#231f20"  stroke="#231f20" stroke-width="0.169">2</text>
<line x1="564.17" y1="542.5" x2="564.17" y2="544.5" stroke="#444" stroke-width="0.8" />
<text x="564.77" y="552.8" font-size="9.4" text-anchor="middle" fill="#231f20"  stroke="#231f20" stroke-width="0.169">4</text>
<line x1="609.06" y1="542.5" x2="609.06" y2="544.5" stroke="#444" stroke-width="0.8" />
<text x="609.66" y="552.8" font-size="9.4" text-anchor="middle" fill="#231f20"  stroke="#231f20" stroke-width="0.169">6</text>
<polyline points="474.4,527.72 475.13,531.27 475.87,535.12 476.6,529.46 477.34,531.39 478.07,532.01 478.8,530.73 479.54,531.26 480.27,527.38 481.01,528.7 481.74,535.98 482.48,530.33 483.21,528.23 483.94,528.83 484.68,530.7 485.41,533.77 486.15,528.75 486.88,533.06 487.61,526.82 488.35,533.66 489.08,525.55 489.82,529.35 490.55,530.44 491.28,532.37 492.02,527.78 492.75,528.71 493.49,525.11 494.22,524.49 494.96,528.12 495.69,525.1 496.42,530.62 497.16,496.14 497.89,498.08 498.63,493.56 499.36,509.49 500.09,495.19 500.83,498.44 501.56,513.06 502.3,492.26 503.03,497.08 503.76,497.75 504.5,486.97 505.23,494 505.97,496.59 506.7,502.22 507.44,500.52 508.17,500.5 508.9,493.16 509.64,506.86 510.37,499.55 511.11,497.4 511.84,496.93 512.57,489.76 513.31,497.34 514.04,491.55 514.78,511.65 515.51,494.77 516.24,490.93 516.98,507.91 517.71,504.53 518.45,505.79 519.18,494.2 519.91,499.28 520.65,506.55 521.38,489.57 522.12,496.89 522.85,500.76 523.59,507.59 524.32,501.38 525.05,494.86 525.79,510.6 526.52,490.37 527.26,493.74 527.99,502.6 528.72,493.71 529.46,508.69 530.19,499.08 530.93,496.94 531.66,503.52 532.39,487.64 533.13,497.06 533.86,499.74 534.6,502.41 535.33,498.05 536.07,496.27 536.8,496.97 537.53,504.61 538.27,513.01 539,502.27 539.74,497.98 540.47,499.25 541.2,505.52 541.94,507.02 542.67,473.78 543.41,493.81 544.14,508.05 544.87,490.46 545.61,500.81 546.34,500.45 547.08,506.07 547.81,481.6 548.55,500.96 549.28,494.93 550.01,495.15 550.75,499.93 551.48,500.54 552.22,503.98 552.95,495.75 553.68,493.4 554.42,500.85 555.15,497.1 555.89,488.8 556.62,494.07 557.35,492.86 558.09,495.33 558.82,499.93 559.56,505.56 560.29,499.35 561.03,507.44 561.76,501.21 562.49,504.64 563.23,502.19 563.96,493.86 564.7,510.59 565.43,495.37 566.16,499.92 566.9,496.93 567.63,503.47 568.37,490.55 569.1,493.31 569.83,504.94 570.57,493.97 571.3,495.98 572.04,504.24 572.77,495.66 573.51,509.68 574.24,503.99 574.97,476.81 575.71,497.79 576.44,495.67 577.18,497.66 577.91,493.07 578.64,504.05 579.38,499.05 580.11,507.83 580.85,496.26 581.58,505.48 582.31,499.9 583.05,488.37 583.78,499.67 584.52,508.64 585.25,492.32 585.99,463.21 586.72,509.78 587.45,498.87 588.19,494.96 588.92,489.76 589.66,510.2 590.39,504.37 591.12,499.66 591.86,498.82 592.59,504.23 593.33,502.03 594.06,504.71 594.79,502.23 595.53,498.07 596.26,496.79 597,503.29 597.73,504.45 598.46,498.46 599.2,497.14 599.93,505.15 600.67,494.59 601.4,496.47 602.14,505.43 602.87,532.82 603.6,531.44 604.34,535.18 605.07,529.9 605.81,528.51 606.54,528.63 607.27,532.68 608.01,534.34 608.74,526.73 609.48,531.9 610.21,527.26 610.94,531.94 611.68,532.5 612.41,535.38 613.15,532.35 613.88,532.57 614.62,532.75 615.35,534.55 616.08,530.88 616.82,536.58 617.55,531.21 618.29,531.21 619.02,532.05 619.75,526.59 620.49,536.51 621.22,533.64 621.96,534.51 622.69,531.87 623.42,535.4 624.16,532.39 624.89,533.02 625.63,527.62 626.36,533.41 627.1,531.18 627.83,538.32 628.56,530.23 629.3,534.23 630.03,530.75 630.77,539.86 631.5,496.69" fill="none" stroke="#2f55a5" stroke-width="1.05" stroke-linejoin="round"/>
<text transform="translate(451.6,497.9) rotate(-90)" font-size="9.4" text-anchor="middle" fill="#231f20"  stroke="#231f20" stroke-width="0.169">FRET</text>
<text x="558" y="563.8" font-size="10.0" text-anchor="middle" fill="#231f20"  stroke="#231f20" stroke-width="0.180">time (s)</text>
<text transform="translate(5,599.9) scale(0.7812,1)" font-size="24.56" font-weight="bold" fill="#231f20" stroke="#231f20" stroke-width="0.5">E</text>
<rect x="46.24" y="701.78" width="2.27" height="0.62" fill="#1c88b3" stroke="#111" stroke-width="0.45" />
<rect x="48.51" y="700.55" width="2.27" height="1.85" fill="#1c88b3" stroke="#111" stroke-width="0.45" />
<rect x="50.78" y="699.1" width="2.27" height="3.3" fill="#1c88b3" stroke="#111" stroke-width="0.45" />
<rect x="53.05" y="696.43" width="2.27" height="5.97" fill="#1c88b3" stroke="#111" stroke-width="0.45" />
<rect x="55.32" y="693.13" width="2.27" height="9.27" fill="#1c88b3" stroke="#111" stroke-width="0.45" />
<rect x="57.59" y="685.71" width="2.27" height="16.69" fill="#1c88b3" stroke="#111" stroke-width="0.45" />
<rect x="59.86" y="683.24" width="2.27" height="19.16" fill="#1c88b3" stroke="#111" stroke-width="0.45" />
<rect x="62.13" y="674.59" width="2.27" height="27.81" fill="#1c88b3" stroke="#111" stroke-width="0.45" />
<rect x="64.4" y="667.17" width="2.27" height="35.23" fill="#1c88b3" stroke="#111" stroke-width="0.45" />
<rect x="66.67" y="666.35" width="2.27" height="36.05" fill="#1c88b3" stroke="#111" stroke-width="0.45" />
<rect x="68.94" y="655.23" width="2.27" height="47.17" fill="#1c88b3" stroke="#111" stroke-width="0.45" />
<rect x="71.21" y="654.81" width="2.27" height="47.59" fill="#1c88b3" stroke="#111" stroke-width="0.45" />
<rect x="73.48" y="652.75" width="2.27" height="49.65" fill="#1c88b3" stroke="#111" stroke-width="0.45" />
<rect x="75.75" y="648.63" width="2.27" height="53.77" fill="#1c88b3" stroke="#111" stroke-width="0.45" />
<rect x="78.02" y="646.78" width="2.27" height="55.62" fill="#1c88b3" stroke="#111" stroke-width="0.45" />
<rect x="80.29" y="640.39" width="2.27" height="62.01" fill="#1c88b3" stroke="#111" stroke-width="0.45" />
<rect x="82.56" y="639.16" width="2.27" height="63.24" fill="#1c88b3" stroke="#111" stroke-width="0.45" />
<rect x="84.83" y="629.48" width="2.27" height="72.92" fill="#1c88b3" stroke="#111" stroke-width="0.45" />
<rect x="87.1" y="631.33" width="2.27" height="71.07" fill="#1c88b3" stroke="#111" stroke-width="0.45" />
<rect x="89.37" y="630.92" width="2.27" height="71.48" fill="#1c88b3" stroke="#111" stroke-width="0.45" />
<rect x="91.64" y="626.59" width="2.27" height="75.81" fill="#1c88b3" stroke="#111" stroke-width="0.45" />
<rect x="93.91" y="627.42" width="2.27" height="74.98" fill="#1c88b3" stroke="#111" stroke-width="0.45" />
<rect x="96.18" y="627.21" width="2.27" height="75.19" fill="#1c88b3" stroke="#111" stroke-width="0.45" />
<rect x="98.45" y="629.27" width="2.27" height="73.13" fill="#1c88b3" stroke="#111" stroke-width="0.45" />
<rect x="100.72" y="631.95" width="2.27" height="70.45" fill="#1c88b3" stroke="#111" stroke-width="0.45" />
<rect x="102.99" y="628.65" width="2.27" height="73.75" fill="#1c88b3" stroke="#111" stroke-width="0.45" />
<rect x="105.26" y="629.89" width="2.27" height="72.51" fill="#1c88b3" stroke="#111" stroke-width="0.45" />
<rect x="107.53" y="630.51" width="2.27" height="71.89" fill="#1c88b3" stroke="#111" stroke-width="0.45" />
<rect x="109.8" y="635.45" width="2.27" height="66.95" fill="#1c88b3" stroke="#111" stroke-width="0.45" />
<rect x="112.07" y="635.45" width="2.27" height="66.95" fill="#1c88b3" stroke="#111" stroke-width="0.45" />
<rect x="114.34" y="639.36" width="2.27" height="63.04" fill="#1c88b3" stroke="#111" stroke-width="0.45" />
<rect x="116.61" y="639.36" width="2.27" height="63.04" fill="#1c88b3" stroke="#111" stroke-width="0.45" />
<rect x="118.88" y="641.84" width="2.27" height="60.56" fill="#1c88b3" stroke="#111" stroke-width="0.45" />
<rect x="121.15" y="647.81" width="2.27" height="54.59" fill="#1c88b3" stroke="#111" stroke-width="0.45" />
<rect x="123.42" y="650.28" width="2.27" height="52.12" fill="#1c88b3" stroke="#111" stroke-width="0.45" />
<rect x="125.69" y="652.34" width="2.27" height="50.06" fill="#1c88b3" stroke="#111" stroke-width="0.45" />
<rect x="127.96" y="654.2" width="2.27" height="48.2" fill="#1c88b3" stroke="#111" stroke-width="0.45" />
<rect x="130.23" y="658.52" width="2.27" height="43.88" fill="#1c88b3" stroke="#111" stroke-width="0.45" />
<rect x="132.5" y="661.61" width="2.27" height="40.79" fill="#1c88b3" stroke="#111" stroke-width="0.45" />
<rect x="134.77" y="663.47" width="2.27" height="38.93" fill="#1c88b3" stroke="#111" stroke-width="0.45" />
<rect x="137.04" y="673.35" width="2.27" height="29.05" fill="#1c88b3" stroke="#111" stroke-width="0.45" />
<rect x="139.31" y="683.24" width="2.27" height="19.16" fill="#1c88b3" stroke="#111" stroke-width="0.45" />
<rect x="141.58" y="690.66" width="2.27" height="11.74" fill="#1c88b3" stroke="#111" stroke-width="0.45" />
<rect x="143.85" y="694.98" width="2.27" height="7.42" fill="#1c88b3" stroke="#111" stroke-width="0.45" />
<rect x="146.12" y="698.9" width="2.27" height="3.5" fill="#1c88b3" stroke="#111" stroke-width="0.45" />
<rect x="148.39" y="701.37" width="2.27" height="1.03" fill="#1c88b3" stroke="#111" stroke-width="0.45" />
<rect x="150.66" y="701.99" width="2.27" height="0.41" fill="#1c88b3" stroke="#111" stroke-width="0.45" />
<line x1="39.4" y1="619.5" x2="39.4" y2="702.9" stroke="#000" stroke-width="0.9" />
<line x1="39" y1="702.4" x2="162.8" y2="702.4" stroke="#000" stroke-width="0.9" />
<line x1="36.4" y1="702.4" x2="39.4" y2="702.4" stroke="#000" stroke-width="0.8" />
<text x="34.9" y="704.6" font-size="6.2" text-anchor="end" fill="#000"  stroke="#000" stroke-width="0.112">0.00</text>
<line x1="36.4" y1="681.8" x2="39.4" y2="681.8" stroke="#000" stroke-width="0.8" />
<text x="34.9" y="684" font-size="6.2" text-anchor="end" fill="#000"  stroke="#000" stroke-width="0.112">0.01</text>
<line x1="36.4" y1="661.2" x2="39.4" y2="661.2" stroke="#000" stroke-width="0.8" />
<text x="34.9" y="663.4" font-size="6.2" text-anchor="end" fill="#000"  stroke="#000" stroke-width="0.112">0.02</text>
<line x1="36.4" y1="640.6" x2="39.4" y2="640.6" stroke="#000" stroke-width="0.8" />
<text x="34.9" y="642.8" font-size="6.2" text-anchor="end" fill="#000"  stroke="#000" stroke-width="0.112">0.03</text>
<line x1="36.4" y1="620" x2="39.4" y2="620" stroke="#000" stroke-width="0.8" />
<text x="34.9" y="622.2" font-size="6.2" text-anchor="end" fill="#000"  stroke="#000" stroke-width="0.112">0.04</text>
<line x1="41.7" y1="702.4" x2="41.7" y2="705.2" stroke="#000" stroke-width="0.8" />
<text x="42" y="712.6" font-size="6.2" text-anchor="middle" fill="#000"  stroke="#000" stroke-width="0.112">0.00</text>
<line x1="64.4" y1="702.4" x2="64.4" y2="705.2" stroke="#000" stroke-width="0.8" />
<text x="64.7" y="712.6" font-size="6.2" text-anchor="middle" fill="#000"  stroke="#000" stroke-width="0.112">0.20</text>
<line x1="87.1" y1="702.4" x2="87.1" y2="705.2" stroke="#000" stroke-width="0.8" />
<text x="87.4" y="712.6" font-size="6.2" text-anchor="middle" fill="#000"  stroke="#000" stroke-width="0.112">0.40</text>
<line x1="109.8" y1="702.4" x2="109.8" y2="705.2" stroke="#000" stroke-width="0.8" />
<text x="110.1" y="712.6" font-size="6.2" text-anchor="middle" fill="#000"  stroke="#000" stroke-width="0.112">0.60</text>
<line x1="132.5" y1="702.4" x2="132.5" y2="705.2" stroke="#000" stroke-width="0.8" />
<text x="132.8" y="712.6" font-size="6.2" text-anchor="middle" fill="#000"  stroke="#000" stroke-width="0.112">0.80</text>
<line x1="155.2" y1="702.4" x2="155.2" y2="705.2" stroke="#000" stroke-width="0.8" />
<text x="155.5" y="712.6" font-size="6.2" text-anchor="middle" fill="#000"  stroke="#000" stroke-width="0.112">1.00</text>
<text x="101" y="609.6" font-size="6.5" text-anchor="middle" fill="#000"  stroke="#000" stroke-width="0.117">PKR w/o PACT</text>
<text x="101.3" y="722.8" font-size="6.7" text-anchor="middle" fill="#000" stroke="#000" stroke-width="0.15">FRET Efficiency</text>
<text transform="translate(19.6,661.7) rotate(-90)" font-size="6.6" text-anchor="middle" fill="#000"  stroke="#000" stroke-width="0.119">Probability</text>
<rect x="208.17" y="701.14" width="2.19" height="0.56" fill="#50468a" stroke="#111" stroke-width="0.45" />
<rect x="210.36" y="700.01" width="2.19" height="1.69" fill="#50468a" stroke="#111" stroke-width="0.45" />
<rect x="212.55" y="698.33" width="2.19" height="3.38" fill="#50468a" stroke="#111" stroke-width="0.45" />
<rect x="214.74" y="696.19" width="2.19" height="5.51" fill="#50468a" stroke="#111" stroke-width="0.45" />
<rect x="216.93" y="695.51" width="2.19" height="6.19" fill="#50468a" stroke="#111" stroke-width="0.45" />
<rect x="219.12" y="692.93" width="2.19" height="8.78" fill="#50468a" stroke="#111" stroke-width="0.45" />
<rect x="221.31" y="690.79" width="2.19" height="10.91" fill="#50468a" stroke="#111" stroke-width="0.45" />
<rect x="223.5" y="689.21" width="2.19" height="12.49" fill="#50468a" stroke="#111" stroke-width="0.45" />
<rect x="225.69" y="689.66" width="2.19" height="12.04" fill="#50468a" stroke="#111" stroke-width="0.45" />
<rect x="227.88" y="688.09" width="2.19" height="13.61" fill="#50468a" stroke="#111" stroke-width="0.45" />
<rect x="230.07" y="688.99" width="2.19" height="12.71" fill="#50468a" stroke="#111" stroke-width="0.45" />
<rect x="232.26" y="686.96" width="2.19" height="14.74" fill="#50468a" stroke="#111" stroke-width="0.45" />
<rect x="234.45" y="687.86" width="2.19" height="13.84" fill="#50468a" stroke="#111" stroke-width="0.45" />
<rect x="236.64" y="688.99" width="2.19" height="12.71" fill="#50468a" stroke="#111" stroke-width="0.45" />
<rect x="238.83" y="687.86" width="2.19" height="13.84" fill="#50468a" stroke="#111" stroke-width="0.45" />
<rect x="241.02" y="688.99" width="2.19" height="12.71" fill="#50468a" stroke="#111" stroke-width="0.45" />
<rect x="243.21" y="687.86" width="2.19" height="13.84" fill="#50468a" stroke="#111" stroke-width="0.45" />
<rect x="245.4" y="687.41" width="2.19" height="14.29" fill="#50468a" stroke="#111" stroke-width="0.45" />
<rect x="247.59" y="688.09" width="2.19" height="13.61" fill="#50468a" stroke="#111" stroke-width="0.45" />
<rect x="249.78" y="689.66" width="2.19" height="12.04" fill="#50468a" stroke="#111" stroke-width="0.45" />
<rect x="251.97" y="685.73" width="2.19" height="15.98" fill="#50468a" stroke="#111" stroke-width="0.45" />
<rect x="254.16" y="682.01" width="2.19" height="19.69" fill="#50468a" stroke="#111" stroke-width="0.45" />
<rect x="256.35" y="677.18" width="2.19" height="24.52" fill="#50468a" stroke="#111" stroke-width="0.45" />
<rect x="258.54" y="676.5" width="2.19" height="25.2" fill="#50468a" stroke="#111" stroke-width="0.45" />
<rect x="260.73" y="668.18" width="2.19" height="33.52" fill="#50468a" stroke="#111" stroke-width="0.45" />
<rect x="262.92" y="659.62" width="2.19" height="42.08" fill="#50468a" stroke="#111" stroke-width="0.45" />
<rect x="265.11" y="657.83" width="2.19" height="43.88" fill="#50468a" stroke="#111" stroke-width="0.45" />
<rect x="267.3" y="648.71" width="2.19" height="52.99" fill="#50468a" stroke="#111" stroke-width="0.45" />
<rect x="269.49" y="640.73" width="2.19" height="60.98" fill="#50468a" stroke="#111" stroke-width="0.45" />
<rect x="271.68" y="632.85" width="2.19" height="68.85" fill="#50468a" stroke="#111" stroke-width="0.45" />
<rect x="273.87" y="635.33" width="2.19" height="66.38" fill="#50468a" stroke="#111" stroke-width="0.45" />
<rect x="276.06" y="628.91" width="2.19" height="72.79" fill="#50468a" stroke="#111" stroke-width="0.45" />
<rect x="278.25" y="632.18" width="2.19" height="69.53" fill="#50468a" stroke="#111" stroke-width="0.45" />
<rect x="280.44" y="637.01" width="2.19" height="64.69" fill="#50468a" stroke="#111" stroke-width="0.45" />
<rect x="282.63" y="648.71" width="2.19" height="52.99" fill="#50468a" stroke="#111" stroke-width="0.45" />
<rect x="284.82" y="654.56" width="2.19" height="47.14" fill="#50468a" stroke="#111" stroke-width="0.45" />
<rect x="287.01" y="663.34" width="2.19" height="38.36" fill="#50468a" stroke="#111" stroke-width="0.45" />
<rect x="289.2" y="669.98" width="2.19" height="31.72" fill="#50468a" stroke="#111" stroke-width="0.45" />
<rect x="291.39" y="679.31" width="2.19" height="22.39" fill="#50468a" stroke="#111" stroke-width="0.45" />
<rect x="293.58" y="683.7" width="2.19" height="18" fill="#50468a" stroke="#111" stroke-width="0.45" />
<rect x="295.77" y="688.09" width="2.19" height="13.61" fill="#50468a" stroke="#111" stroke-width="0.45" />
<rect x="297.96" y="692.93" width="2.19" height="8.78" fill="#50468a" stroke="#111" stroke-width="0.45" />
<rect x="300.15" y="697.31" width="2.19" height="4.39" fill="#50468a" stroke="#111" stroke-width="0.45" />
<rect x="302.34" y="698.44" width="2.19" height="3.26" fill="#50468a" stroke="#111" stroke-width="0.45" />
<rect x="304.53" y="699.9" width="2.19" height="1.8" fill="#50468a" stroke="#111" stroke-width="0.45" />
<line x1="200.1" y1="633.7" x2="200.1" y2="702.2" stroke="#000" stroke-width="0.9" />
<line x1="199.7" y1="701.7" x2="312" y2="701.7" stroke="#000" stroke-width="0.9" />
<line x1="197.1" y1="701.7" x2="200.1" y2="701.7" stroke="#000" stroke-width="0.8" />
<text x="195.6" y="703.9" font-size="6.2" text-anchor="end" fill="#000"  stroke="#000" stroke-width="0.112">0.00</text>
<line x1="197.1" y1="679.2" x2="200.1" y2="679.2" stroke="#000" stroke-width="0.8" />
<text x="195.6" y="681.4" font-size="6.2" text-anchor="end" fill="#000"  stroke="#000" stroke-width="0.112">0.02</text>
<line x1="197.1" y1="656.7" x2="200.1" y2="656.7" stroke="#000" stroke-width="0.8" />
<text x="195.6" y="658.9" font-size="6.2" text-anchor="end" fill="#000"  stroke="#000" stroke-width="0.112">0.04</text>
<line x1="197.1" y1="634.2" x2="200.1" y2="634.2" stroke="#000" stroke-width="0.8" />
<text x="195.6" y="636.4" font-size="6.2" text-anchor="end" fill="#000"  stroke="#000" stroke-width="0.112">0.06</text>
<line x1="201.6" y1="701.7" x2="201.6" y2="704.5" stroke="#000" stroke-width="0.8" />
<text x="201.9" y="711.9" font-size="6.2" text-anchor="middle" fill="#000"  stroke="#000" stroke-width="0.112">0.00</text>
<line x1="223.5" y1="701.7" x2="223.5" y2="704.5" stroke="#000" stroke-width="0.8" />
<text x="223.8" y="711.9" font-size="6.2" text-anchor="middle" fill="#000"  stroke="#000" stroke-width="0.112">0.20</text>
<line x1="245.4" y1="701.7" x2="245.4" y2="704.5" stroke="#000" stroke-width="0.8" />
<text x="245.7" y="711.9" font-size="6.2" text-anchor="middle" fill="#000"  stroke="#000" stroke-width="0.112">0.40</text>
<line x1="267.3" y1="701.7" x2="267.3" y2="704.5" stroke="#000" stroke-width="0.8" />
<text x="267.6" y="711.9" font-size="6.2" text-anchor="middle" fill="#000"  stroke="#000" stroke-width="0.112">0.60</text>
<line x1="289.2" y1="701.7" x2="289.2" y2="704.5" stroke="#000" stroke-width="0.8" />
<text x="289.5" y="711.9" font-size="6.2" text-anchor="middle" fill="#000"  stroke="#000" stroke-width="0.112">0.80</text>
<line x1="311.1" y1="701.7" x2="311.1" y2="704.5" stroke="#000" stroke-width="0.8" />
<text x="311.4" y="711.9" font-size="6.2" text-anchor="middle" fill="#000"  stroke="#000" stroke-width="0.112">1.00</text>
<text x="259.3" y="612.5" font-size="6.5" text-anchor="middle" fill="#000"  stroke="#000" stroke-width="0.117">PKR w/ PACT</text>
<line x1="200.1" y1="622.8" x2="200.1" y2="634.2" stroke="#000" stroke-width="0.9" />
<text x="259" y="722" font-size="6.7" text-anchor="middle" fill="#000" stroke="#000" stroke-width="0.15">FRET Efficiency</text>
<text transform="translate(180.2,662.3) rotate(-90)" font-size="6.6" text-anchor="middle" fill="#000"  stroke="#000" stroke-width="0.119">Probability</text>
<text transform="translate(329.1,599.9) scale(0.7816,1)" font-size="24.71" font-weight="bold" fill="#231f20" stroke="#231f20" stroke-width="0.5">F</text>
<line x1="371.5" y1="595.2" x2="371.5" y2="704.2" stroke="#000" stroke-width="1.1" />
<line x1="371" y1="703.7" x2="535.8" y2="703.7" stroke="#222" stroke-width="1.3" />
<line x1="382.9" y1="703.7" x2="382.9" y2="708.3" stroke="#222" stroke-width="1.25" />
<text x="383.1" y="717.9" font-size="8.6" text-anchor="middle" fill="#231f20"  stroke="#231f20" stroke-width="0.155">0.0</text>
<line x1="404.74" y1="703.7" x2="404.74" y2="708.3" stroke="#222" stroke-width="1.25" />
<text x="404.94" y="717.9" font-size="8.6" text-anchor="middle" fill="#231f20"  stroke="#231f20" stroke-width="0.155">0.2</text>
<line x1="426.58" y1="703.7" x2="426.58" y2="708.3" stroke="#222" stroke-width="1.25" />
<text x="426.78" y="717.9" font-size="8.6" text-anchor="middle" fill="#231f20"  stroke="#231f20" stroke-width="0.155">0.4</text>
<line x1="448.42" y1="703.7" x2="448.42" y2="708.3" stroke="#222" stroke-width="1.25" />
<text x="448.62" y="717.9" font-size="8.6" text-anchor="middle" fill="#231f20"  stroke="#231f20" stroke-width="0.155">0.6</text>
<line x1="470.26" y1="703.7" x2="470.26" y2="708.3" stroke="#222" stroke-width="1.25" />
<text x="470.46" y="717.9" font-size="8.6" text-anchor="middle" fill="#231f20"  stroke="#231f20" stroke-width="0.155">0.8</text>
<line x1="492.1" y1="703.7" x2="492.1" y2="708.3" stroke="#222" stroke-width="1.25" />
<text x="492.3" y="717.9" font-size="8.6" text-anchor="middle" fill="#231f20"  stroke="#231f20" stroke-width="0.155">1.0</text>
<line x1="513.94" y1="703.7" x2="513.94" y2="708.3" stroke="#222" stroke-width="1.25" />
<text x="514.14" y="717.9" font-size="8.6" text-anchor="middle" fill="#231f20"  stroke="#231f20" stroke-width="0.155">1.2</text>
<line x1="535.78" y1="703.7" x2="535.78" y2="708.3" stroke="#222" stroke-width="1.25" />
<text x="535.98" y="717.9" font-size="8.6" text-anchor="middle" fill="#231f20"  stroke="#231f20" stroke-width="0.155">1.4</text>
<line x1="366.5" y1="694.7" x2="371.5" y2="694.7" stroke="#000" stroke-width="1.1" />
<text x="366.2" y="698" font-size="9.3" text-anchor="end" fill="#231f20"  stroke="#231f20" stroke-width="0.167">0.0</text>
<line x1="366.5" y1="676.5" x2="371.5" y2="676.5" stroke="#000" stroke-width="1.1" />
<text x="366.2" y="679.8" font-size="9.3" text-anchor="end" fill="#231f20"  stroke="#231f20" stroke-width="0.167">0.1</text>
<line x1="366.5" y1="658.3" x2="371.5" y2="658.3" stroke="#000" stroke-width="1.1" />
<text x="366.2" y="661.6" font-size="9.3" text-anchor="end" fill="#231f20"  stroke="#231f20" stroke-width="0.167">0.2</text>
<line x1="366.5" y1="640.1" x2="371.5" y2="640.1" stroke="#000" stroke-width="1.1" />
<text x="366.2" y="643.4" font-size="9.3" text-anchor="end" fill="#231f20"  stroke="#231f20" stroke-width="0.167">0.3</text>
<line x1="366.5" y1="621.9" x2="371.5" y2="621.9" stroke="#000" stroke-width="1.1" />
<text x="366.2" y="625.2" font-size="9.3" text-anchor="end" fill="#231f20"  stroke="#231f20" stroke-width="0.167">0.4</text>
<line x1="366.5" y1="603.7" x2="371.5" y2="603.7" stroke="#000" stroke-width="1.1" />
<text x="366.2" y="607" font-size="9.3" text-anchor="end" fill="#231f20"  stroke="#231f20" stroke-width="0.167">0.5</text>
<text x="453.8" y="730.4" font-size="8.8" text-anchor="middle" fill="#231f20"  stroke="#231f20" stroke-width="0.158">Tau (s)</text>
<text transform="translate(348,647) rotate(-90)" font-size="8.9" text-anchor="middle" fill="#231f20"  stroke="#231f20" stroke-width="0.160">Auto-correlation (arb.units)</text>
<text x="411.7" y="608.6" font-size="9.55" text-anchor="start" fill="#3b3b3b"  stroke="#3b3b3b" stroke-width="0.172">sliding time</text>
<text x="411.7" y="621.8" font-size="9.55" text-anchor="start" fill="#29a9e0"  stroke="#29a9e0" stroke-width="0.172">0.22±0.01s (PKR w/o PACT)</text>
<text x="411.7" y="634.7" font-size="9.55" text-anchor="start" fill="#8a6bae"  stroke="#8a6bae" stroke-width="0.172">0.15±0.00s (PKR w/PACT)</text>
<polyline points="384.6,593.58 385.3,596.09 386,598.53 386.7,600.9 387.4,603.21 388.1,605.46 388.8,607.65 389.5,609.78 390.2,611.85 390.9,613.86 391.6,615.82 392.3,617.73 393,619.59 393.7,621.39 394.4,623.15 395.1,624.86 395.8,626.53 396.5,628.14 397.2,629.72 397.9,631.25 398.6,632.74 399.3,634.19 400,635.61 400.7,636.98 401.4,638.32 402.1,639.62 402.8,640.88 403.5,642.11 404.2,643.31 404.9,644.48 405.6,645.61 406.3,646.72 407,647.79 407.7,648.84 408.4,649.85 409.1,650.84 409.8,651.8 410.5,652.74 411.2,653.65 411.9,654.54 412.6,655.4 413.3,656.24 414,657.06 414.7,657.85 415.4,658.63 416.1,659.38 416.8,660.11 417.5,660.82 418.2,661.52 418.9,662.19 419.6,662.85 420.3,663.49 421,664.11 421.7,664.71 422.4,665.3 423.1,665.87 423.8,666.43 424.5,666.97 425.2,667.5 425.9,668.01 426.6,668.51 427.3,668.99 428,669.47 428.7,669.93 429.4,670.37 430.1,670.81 430.8,671.23 431.5,671.65 432.2,672.05 432.9,672.44 433.6,672.82 434.3,673.19 435,673.55 435.7,673.89 436.4,674.24 437.1,674.57 437.8,674.89 438.5,675.2 439.2,675.51 439.9,675.8 440.6,676.09 441.3,676.37 442,676.65 442.7,676.91 443.4,677.17 444.1,677.42 444.8,677.67 445.5,677.91 446.2,678.14 446.9,678.36 447.6,678.58 448.3,678.8 449,679.01 449.7,679.21 450.4,679.4 451.1,679.6 451.8,679.78 452.5,679.96 453.2,680.14 453.9,680.31 454.6,680.48 455.3,680.64 456,680.8 456.7,680.95 457.4,681.1 458.1,681.25 458.8,681.39 459.5,681.53 460.2,681.66 460.9,681.79 461.6,681.92 462.3,682.04 463,682.16 463.7,682.28 464.4,682.4 465.1,682.51 465.8,682.61 466.5,682.72 467.2,682.82 467.9,682.92 468.6,683.02 469.3,683.11 470,683.2 470.7,683.29 471.4,683.38 472.1,683.46 472.8,683.54 473.5,683.62 474.2,683.7 474.9,683.78 475.6,683.85 476.3,683.92 477,683.99 477.7,684.06 478.4,684.13 479.1,684.19 479.8,684.25 480.5,684.31 481.2,684.37 481.9,684.43 482.6,684.48 483.3,684.54 484,684.59 484.7,684.64 485.4,684.69 486.1,684.74 486.8,684.79 487.5,684.84 488.2,684.88 488.9,684.92 489.6,684.97 490.3,685.01 491,685.05 491.7,685.09 492.4,685.13 493.1,685.16 493.8,685.2 494.5,685.23 495.2,685.27 495.9,685.3 496.6,685.33 497.3,685.37 498,685.4 498.7,685.43 499.4,685.46 500.1,685.48 500.8,685.51 501.5,685.54 502.2,685.56 502.9,685.59 503.6,685.61 504.3,685.64 505,685.66 505.7,685.68 506.4,685.71 507.1,685.73 507.8,685.75 508.5,685.77 509.2,685.79 509.9,685.81 510.6,685.83 511.3,685.84 512,685.86 512.7,685.88 513.4,685.9 514.1,685.91 514.8,685.93 515.5,685.94 516.2,685.96 516.9,685.97 517.6,685.99 518.3,686 519,686.01 519.7,686.03 520.4,686.04 521.1,686.05 521.8,686.06 522.5,686.08 523.2,686.09" fill="none" stroke="#29a9e0" stroke-width="0.9"/>
<polyline points="383.6,595.46 384.3,599.7 385,603.75 385.7,607.61 386.4,611.29 387.1,614.8 387.8,618.15 388.5,621.35 389.2,624.39 389.9,627.3 390.6,630.08 391.3,632.73 392,635.25 392.7,637.67 393.4,639.97 394.1,642.16 394.8,644.26 395.5,646.26 396.2,648.17 396.9,650 397.6,651.74 398.3,653.4 399,654.99 399.7,656.51 400.4,657.96 401.1,659.34 401.8,660.66 402.5,661.93 403.2,663.13 403.9,664.29 404.6,665.39 405.3,666.44 406,667.45 406.7,668.41 407.4,669.33 408.1,670.22 408.8,671.06 409.5,671.86 410.2,672.64 410.9,673.37 411.6,674.08 412.3,674.76 413,675.4 413.7,676.02 414.4,676.62 415.1,677.19 415.8,677.73 416.5,678.25 417.2,678.75 417.9,679.23 418.6,679.69 419.3,680.13 420,680.56 420.7,680.96 421.4,681.35 422.1,681.73 422.8,682.09 423.5,682.43 424.2,682.76 424.9,683.08 425.6,683.39 426.3,683.68 427,683.96 427.7,684.24 428.4,684.5 429.1,684.75 429.8,684.99 430.5,685.23 431.2,685.45 431.9,685.67 432.6,685.88 433.3,686.08 434,686.28 434.7,686.46 435.4,686.65 436.1,686.82 436.8,686.99 437.5,687.15 438.2,687.31 438.9,687.47 439.6,687.61 440.3,687.76 441,687.9 441.7,688.03 442.4,688.16 443.1,688.29 443.8,688.41 444.5,688.53 445.2,688.64 445.9,688.75 446.6,688.86 447.3,688.97 448,689.07 448.7,689.17 449.4,689.27 450.1,689.36 450.8,689.46 451.5,689.54 452.2,689.63 452.9,689.72 453.6,689.8 454.3,689.88 455,689.96 455.7,690.04 456.4,690.11 457.1,690.19 457.8,690.26 458.5,690.33 459.2,690.4 459.9,690.46 460.6,690.53 461.3,690.59 462,690.66 462.7,690.72 463.4,690.78 464.1,690.84 464.8,690.9 465.5,690.95 466.2,691.01 466.9,691.06 467.6,691.12 468.3,691.17 469,691.22 469.7,691.27 470.4,691.32 471.1,691.37 471.8,691.42 472.5,691.47 473.2,691.51 473.9,691.56 474.6,691.61 475.3,691.65 476,691.7 476.7,691.74 477.4,691.78 478.1,691.82 478.8,691.86 479.5,691.91 480.2,691.95 480.9,691.99 481.6,692.02 482.3,692.06 483,692.1 483.7,692.14 484.4,692.18 485.1,692.21 485.8,692.25 486.5,692.28 487.2,692.32 487.9,692.35 488.6,692.39 489.3,692.42 490,692.46 490.7,692.49 491.4,692.52 492.1,692.55 492.8,692.59 493.5,692.62 494.2,692.65 494.9,692.68 495.6,692.71 496.3,692.74 497,692.77 497.7,692.8 498.4,692.83 499.1,692.86 499.8,692.89 500.5,692.91 501.2,692.94 501.9,692.97 502.6,693 503.3,693.02 504,693.05 504.7,693.08 505.4,693.1 506.1,693.13 506.8,693.16 507.5,693.18 508.2,693.21 508.9,693.23 509.6,693.26 510.3,693.28 511,693.3 511.7,693.33 512.4,693.35 513.1,693.37 513.8,693.4 514.5,693.42 515.2,693.44 515.9,693.47 516.6,693.49 517.3,693.51 518,693.53 518.7,693.55 519.4,693.58" fill="none" stroke="#6f52a5" stroke-width="0.9"/>
<circle cx="389.86" cy="604.15" r="1.5" fill="#29a9e0"/>
<circle cx="393.58" cy="620.53" r="1.5" fill="#29a9e0"/>
<circle cx="397.3" cy="630.95" r="1.5" fill="#29a9e0"/>
<circle cx="401.03" cy="638.4" r="1.5" fill="#29a9e0"/>
<circle cx="404.75" cy="645.1" r="1.5" fill="#29a9e0"/>
<circle cx="407.97" cy="649.57" r="1.5" fill="#29a9e0"/>
<circle cx="411.7" cy="656.52" r="1.5" fill="#29a9e0"/>
<circle cx="415.42" cy="657.51" r="1.5" fill="#29a9e0"/>
<circle cx="419.14" cy="662.47" r="1.5" fill="#29a9e0"/>
<circle cx="422.87" cy="665.7" r="1.5" fill="#29a9e0"/>
<circle cx="426.59" cy="669.92" r="1.5" fill="#29a9e0"/>
<circle cx="429.57" cy="669.42" r="1.5" fill="#29a9e0"/>
<circle cx="433.29" cy="673.15" r="1.5" fill="#29a9e0"/>
<circle cx="437.01" cy="673.89" r="1.5" fill="#29a9e0"/>
<circle cx="440.74" cy="676.13" r="1.5" fill="#29a9e0"/>
<circle cx="444.46" cy="677.37" r="1.5" fill="#29a9e0"/>
<circle cx="447.69" cy="680.59" r="1.5" fill="#29a9e0"/>
<circle cx="451.41" cy="679.85" r="1.5" fill="#29a9e0"/>
<circle cx="455.13" cy="679.35" r="1.5" fill="#29a9e0"/>
<circle cx="458.86" cy="680.59" r="1.5" fill="#29a9e0"/>
<circle cx="462.58" cy="682.58" r="1.5" fill="#29a9e0"/>
<circle cx="466.3" cy="682.33" r="1.5" fill="#29a9e0"/>
<circle cx="470.02" cy="681.83" r="1.5" fill="#29a9e0"/>
<circle cx="473.75" cy="683.82" r="1.5" fill="#29a9e0"/>
<circle cx="477.22" cy="683.82" r="1.5" fill="#29a9e0"/>
<circle cx="480.95" cy="684.32" r="1.5" fill="#29a9e0"/>
<circle cx="484.17" cy="685.56" r="1.5" fill="#29a9e0"/>
<circle cx="487.9" cy="683.82" r="1.5" fill="#29a9e0"/>
<circle cx="491.62" cy="684.32" r="1.5" fill="#29a9e0"/>
<circle cx="495.34" cy="684.32" r="1.5" fill="#29a9e0"/>
<circle cx="499.06" cy="685.56" r="1.5" fill="#29a9e0"/>
<circle cx="502.79" cy="686.8" r="1.5" fill="#29a9e0"/>
<circle cx="506.01" cy="685.56" r="1.5" fill="#29a9e0"/>
<circle cx="509.49" cy="689.78" r="1.5" fill="#29a9e0"/>
<circle cx="513.46" cy="690.52" r="1.5" fill="#29a9e0"/>
<circle cx="516.93" cy="691.02" r="1.5" fill="#29a9e0"/>
<circle cx="520.66" cy="691.76" r="1.5" fill="#29a9e0"/>
<circle cx="523.88" cy="692.51" r="1.5" fill="#29a9e0"/>
<rect x="384.78" y="604.04" width="2.7" height="2.7" fill="#6f52a5"/>
<rect x="388.51" y="625.88" width="2.7" height="2.7" fill="#6f52a5"/>
<rect x="392.23" y="640.28" width="2.7" height="2.7" fill="#6f52a5"/>
<rect x="395.95" y="650.7" width="2.7" height="2.7" fill="#6f52a5"/>
<rect x="399.68" y="656.91" width="2.7" height="2.7" fill="#6f52a5"/>
<rect x="403.4" y="664.35" width="2.7" height="2.7" fill="#6f52a5"/>
<rect x="406.38" y="669.32" width="2.7" height="2.7" fill="#6f52a5"/>
<rect x="410.35" y="673.04" width="2.7" height="2.7" fill="#6f52a5"/>
<rect x="414.07" y="676.02" width="2.7" height="2.7" fill="#6f52a5"/>
<rect x="417.79" y="678.5" width="2.7" height="2.7" fill="#6f52a5"/>
<rect x="421.52" y="680.98" width="2.7" height="2.7" fill="#6f52a5"/>
<rect x="425.24" y="682.97" width="2.7" height="2.7" fill="#6f52a5"/>
<rect x="428.96" y="683.71" width="2.7" height="2.7" fill="#6f52a5"/>
<rect x="432.69" y="684.21" width="2.7" height="2.7" fill="#6f52a5"/>
<rect x="436.16" y="684.95" width="2.7" height="2.7" fill="#6f52a5"/>
<rect x="439.88" y="684.95" width="2.7" height="2.7" fill="#6f52a5"/>
<rect x="443.61" y="687.43" width="2.7" height="2.7" fill="#6f52a5"/>
<rect x="446.83" y="687.93" width="2.7" height="2.7" fill="#6f52a5"/>
<rect x="450.56" y="687.93" width="2.7" height="2.7" fill="#6f52a5"/>
<rect x="454.28" y="689.17" width="2.7" height="2.7" fill="#6f52a5"/>
<rect x="457.51" y="689.17" width="2.7" height="2.7" fill="#6f52a5"/>
<rect x="460.98" y="690.91" width="2.7" height="2.7" fill="#6f52a5"/>
<rect x="464.95" y="689.92" width="2.7" height="2.7" fill="#6f52a5"/>
<rect x="468.67" y="689.92" width="2.7" height="2.7" fill="#6f52a5"/>
<rect x="472.4" y="690.41" width="2.7" height="2.7" fill="#6f52a5"/>
<rect x="475.87" y="690.41" width="2.7" height="2.7" fill="#6f52a5"/>
<rect x="479.6" y="690.91" width="2.7" height="2.7" fill="#6f52a5"/>
<rect x="483.32" y="690.91" width="2.7" height="2.7" fill="#6f52a5"/>
<rect x="487.04" y="690.41" width="2.7" height="2.7" fill="#6f52a5"/>
<rect x="490.27" y="690.41" width="2.7" height="2.7" fill="#6f52a5"/>
<rect x="493.99" y="690.91" width="2.7" height="2.7" fill="#6f52a5"/>
<rect x="497.71" y="691.65" width="2.7" height="2.7" fill="#6f52a5"/>
<rect x="501.44" y="691.65" width="2.7" height="2.7" fill="#6f52a5"/>
<rect x="505.16" y="692.4" width="2.7" height="2.7" fill="#6f52a5"/>
<rect x="508.88" y="692.89" width="2.7" height="2.7" fill="#6f52a5"/>
<rect x="512.11" y="692.4" width="2.7" height="2.7" fill="#6f52a5"/>
<rect x="515.58" y="690.91" width="2.7" height="2.7" fill="#6f52a5"/>
<rect x="519.31" y="690.91" width="2.7" height="2.7" fill="#6f52a5"/>
<text transform="translate(538.2,599.95) scale(0.8129,1)" font-size="25.14" font-weight="bold" fill="#231f20" stroke="#231f20" stroke-width="0.5">G</text>
<line x1="588.4" y1="599.4" x2="588.4" y2="707.9" stroke="#000" stroke-width="1.2" />
<line x1="587.9" y1="707.4" x2="685" y2="707.4" stroke="#000" stroke-width="1.2" />
<line x1="583.2" y1="707.4" x2="588.4" y2="707.4" stroke="#222" stroke-width="1.1" />
<text x="581.8" y="710.7" font-size="9.2" text-anchor="end" fill="#231f20"  stroke="#231f20" stroke-width="0.166">0</text>
<line x1="583.2" y1="676.7" x2="588.4" y2="676.7" stroke="#222" stroke-width="1.1" />
<text x="581.8" y="680" font-size="9.2" text-anchor="end" fill="#231f20"  stroke="#231f20" stroke-width="0.166">20</text>
<line x1="583.2" y1="646" x2="588.4" y2="646" stroke="#222" stroke-width="1.1" />
<text x="581.8" y="649.3" font-size="9.2" text-anchor="end" fill="#231f20"  stroke="#231f20" stroke-width="0.166">40</text>
<line x1="583.2" y1="615.3" x2="588.4" y2="615.3" stroke="#222" stroke-width="1.1" />
<text x="581.8" y="618.6" font-size="9.2" text-anchor="end" fill="#231f20"  stroke="#231f20" stroke-width="0.166">60</text>
<text transform="translate(568.2,654) rotate(-90)" font-size="8.6" text-anchor="middle" fill="#231f20"  stroke="#231f20" stroke-width="0.155">Duration time (s)</text>
<rect x="602.4" y="688.32" width="26.3" height="19.08" fill="#8fc3e6" stroke="#111" stroke-width="0.8" />
<rect x="643.4" y="694.29" width="27" height="13.11" fill="#6b52a3" stroke="#111" stroke-width="0.8" />
<line x1="615.4" y1="707.4" x2="615.4" y2="711.9" stroke="#000" stroke-width="1.0" />
<line x1="657" y1="707.4" x2="657" y2="711.9" stroke="#000" stroke-width="1.0" />
<text x="615.4" y="720" font-size="6.8" text-anchor="middle" fill="#231f20"  stroke="#231f20" stroke-width="0.122">50nM PKR</text>
<text x="657" y="720" font-size="6.8" text-anchor="middle" fill="#231f20"  stroke="#231f20" stroke-width="0.122">50nM PKR</text>
<text x="657.6" y="728" font-size="6.6" text-anchor="middle" fill="#231f20"  stroke="#231f20" stroke-width="0.119">+ 50nM PACT</text>
<circle cx="603.54" cy="706.14" r="1.25" fill="#fff" stroke="#222" stroke-width="0.5"/>
<circle cx="606.12" cy="706.09" r="1.25" fill="#fff" stroke="#222" stroke-width="0.5"/>
<circle cx="608.78" cy="706.51" r="1.25" fill="#fff" stroke="#222" stroke-width="0.5"/>
<circle cx="610.91" cy="705.91" r="1.25" fill="#fff" stroke="#222" stroke-width="0.5"/>
<circle cx="613.56" cy="706.38" r="1.25" fill="#fff" stroke="#222" stroke-width="0.5"/>
<circle cx="616.5" cy="706.19" r="1.25" fill="#fff" stroke="#222" stroke-width="0.5"/>
<circle cx="618.9" cy="706.19" r="1.25" fill="#fff" stroke="#222" stroke-width="0.5"/>
<circle cx="621.28" cy="706.44" r="1.25" fill="#fff" stroke="#222" stroke-width="0.5"/>
<circle cx="623.78" cy="705.89" r="1.25" fill="#fff" stroke="#222" stroke-width="0.5"/>
<circle cx="626.21" cy="705.99" r="1.25" fill="#fff" stroke="#222" stroke-width="0.5"/>
<circle cx="605.05" cy="704.51" r="1.25" fill="#fff" stroke="#222" stroke-width="0.5"/>
<circle cx="607.6" cy="704.11" r="1.25" fill="#fff" stroke="#222" stroke-width="0.5"/>
<circle cx="609.83" cy="704.54" r="1.25" fill="#fff" stroke="#222" stroke-width="0.5"/>
<circle cx="612.67" cy="704.2" r="1.25" fill="#fff" stroke="#222" stroke-width="0.5"/>
<circle cx="615.08" cy="703.89" r="1.25" fill="#fff" stroke="#222" stroke-width="0.5"/>
<circle cx="617.58" cy="703.85" r="1.25" fill="#fff" stroke="#222" stroke-width="0.5"/>
<circle cx="619.89" cy="703.95" r="1.25" fill="#fff" stroke="#222" stroke-width="0.5"/>
<circle cx="622.42" cy="703.84" r="1.25" fill="#fff" stroke="#222" stroke-width="0.5"/>
<circle cx="625.18" cy="704.49" r="1.25" fill="#fff" stroke="#222" stroke-width="0.5"/>
<circle cx="608.28" cy="702.4" r="1.25" fill="#fff" stroke="#222" stroke-width="0.5"/>
<circle cx="611.28" cy="702.23" r="1.25" fill="#fff" stroke="#222" stroke-width="0.5"/>
<circle cx="613.58" cy="702.33" r="1.25" fill="#fff" stroke="#222" stroke-width="0.5"/>
<circle cx="616" cy="702.27" r="1.25" fill="#fff" stroke="#222" stroke-width="0.5"/>
<circle cx="618.41" cy="702.12" r="1.25" fill="#fff" stroke="#222" stroke-width="0.5"/>
<circle cx="621.05" cy="701.87" r="1.25" fill="#fff" stroke="#222" stroke-width="0.5"/>
<circle cx="645.11" cy="705.84" r="1.25" fill="#fff" stroke="#222" stroke-width="0.5"/>
<circle cx="647.71" cy="705.8" r="1.25" fill="#fff" stroke="#222" stroke-width="0.5"/>
<circle cx="650.1" cy="706.43" r="1.25" fill="#fff" stroke="#222" stroke-width="0.5"/>
<circle cx="652.72" cy="705.82" r="1.25" fill="#fff" stroke="#222" stroke-width="0.5"/>
<circle cx="655.24" cy="706.12" r="1.25" fill="#fff" stroke="#222" stroke-width="0.5"/>
<circle cx="657.63" cy="706.39" r="1.25" fill="#fff" stroke="#222" stroke-width="0.5"/>
<circle cx="660.2" cy="706.12" r="1.25" fill="#fff" stroke="#222" stroke-width="0.5"/>
<circle cx="662.37" cy="706.51" r="1.25" fill="#fff" stroke="#222" stroke-width="0.5"/>
<circle cx="665.21" cy="705.8" r="1.25" fill="#fff" stroke="#222" stroke-width="0.5"/>
<circle cx="667.25" cy="705.94" r="1.25" fill="#fff" stroke="#222" stroke-width="0.5"/>
<circle cx="646.2" cy="704.44" r="1.25" fill="#fff" stroke="#222" stroke-width="0.5"/>
<circle cx="648.63" cy="703.97" r="1.25" fill="#fff" stroke="#222" stroke-width="0.5"/>
<circle cx="651.47" cy="704.53" r="1.25" fill="#fff" stroke="#222" stroke-width="0.5"/>
<circle cx="653.82" cy="704.53" r="1.25" fill="#fff" stroke="#222" stroke-width="0.5"/>
<circle cx="656.38" cy="704.31" r="1.25" fill="#fff" stroke="#222" stroke-width="0.5"/>
<circle cx="658.98" cy="703.81" r="1.25" fill="#fff" stroke="#222" stroke-width="0.5"/>
<circle cx="661.25" cy="703.79" r="1.25" fill="#fff" stroke="#222" stroke-width="0.5"/>
<circle cx="663.64" cy="704.5" r="1.25" fill="#fff" stroke="#222" stroke-width="0.5"/>
<circle cx="666.31" cy="704.54" r="1.25" fill="#fff" stroke="#222" stroke-width="0.5"/>
<circle cx="668.57" cy="704.25" r="1.25" fill="#fff" stroke="#222" stroke-width="0.5"/>
<circle cx="649.07" cy="702.44" r="1.25" fill="#fff" stroke="#222" stroke-width="0.5"/>
<circle cx="651.23" cy="701.9" r="1.25" fill="#fff" stroke="#222" stroke-width="0.5"/>
<circle cx="653.89" cy="701.83" r="1.25" fill="#fff" stroke="#222" stroke-width="0.5"/>
<circle cx="656.74" cy="702.27" r="1.25" fill="#fff" stroke="#222" stroke-width="0.5"/>
<circle cx="658.98" cy="702.17" r="1.25" fill="#fff" stroke="#222" stroke-width="0.5"/>
<circle cx="661.59" cy="702.11" r="1.25" fill="#fff" stroke="#222" stroke-width="0.5"/>
<circle cx="664.04" cy="702.09" r="1.25" fill="#fff" stroke="#222" stroke-width="0.5"/>
<circle cx="652.26" cy="700.18" r="1.25" fill="#fff" stroke="#222" stroke-width="0.5"/>
<circle cx="654.46" cy="700.02" r="1.25" fill="#fff" stroke="#222" stroke-width="0.5"/>
<circle cx="656.84" cy="700.34" r="1.25" fill="#fff" stroke="#222" stroke-width="0.5"/>
<circle cx="659.79" cy="700.17" r="1.25" fill="#fff" stroke="#222" stroke-width="0.5"/>
<circle cx="662.03" cy="700.56" r="1.25" fill="#fff" stroke="#222" stroke-width="0.5"/>
<circle cx="615.23" cy="606.09" r="1.25" fill="#fff" stroke="#222" stroke-width="0.5"/>
<circle cx="615.36" cy="617.3" r="1.25" fill="#fff" stroke="#222" stroke-width="0.5"/>
<circle cx="614.92" cy="619.75" r="1.25" fill="#fff" stroke="#222" stroke-width="0.5"/>
<circle cx="615.39" cy="622.51" r="1.25" fill="#fff" stroke="#222" stroke-width="0.5"/>
<circle cx="615.41" cy="627.58" r="1.25" fill="#fff" stroke="#222" stroke-width="0.5"/>
<circle cx="614.95" cy="633.72" r="1.25" fill="#fff" stroke="#222" stroke-width="0.5"/>
<circle cx="615.4" cy="636.18" r="1.25" fill="#fff" stroke="#222" stroke-width="0.5"/>
<circle cx="615.27" cy="637.86" r="1.25" fill="#fff" stroke="#222" stroke-width="0.5"/>
<circle cx="615.44" cy="660.58" r="1.25" fill="#fff" stroke="#222" stroke-width="0.5"/>
<circle cx="615.18" cy="673.63" r="1.25" fill="#fff" stroke="#222" stroke-width="0.5"/>
<circle cx="615.47" cy="679.77" r="1.25" fill="#fff" stroke="#222" stroke-width="0.5"/>
<circle cx="614.06" cy="669.23" r="1.25" fill="#fff" stroke="#222" stroke-width="0.5"/>
<circle cx="615.76" cy="668.91" r="1.25" fill="#fff" stroke="#222" stroke-width="0.5"/>
<circle cx="614.65" cy="667.07" r="1.25" fill="#fff" stroke="#222" stroke-width="0.5"/>
<circle cx="615.54" cy="666.59" r="1.25" fill="#fff" stroke="#222" stroke-width="0.5"/>
<circle cx="614.95" cy="665.75" r="1.25" fill="#fff" stroke="#222" stroke-width="0.5"/>
<circle cx="614.96" cy="664.78" r="1.25" fill="#fff" stroke="#222" stroke-width="0.5"/>
<circle cx="614.5" cy="686.81" r="1.25" fill="#fff" stroke="#222" stroke-width="0.5"/>
<circle cx="616.39" cy="686.39" r="1.25" fill="#fff" stroke="#222" stroke-width="0.5"/>
<circle cx="615.58" cy="686.03" r="1.25" fill="#fff" stroke="#222" stroke-width="0.5"/>
<circle cx="614.54" cy="685.1" r="1.25" fill="#fff" stroke="#222" stroke-width="0.5"/>
<circle cx="616.52" cy="684.83" r="1.25" fill="#fff" stroke="#222" stroke-width="0.5"/>
<circle cx="614.05" cy="684.28" r="1.25" fill="#fff" stroke="#222" stroke-width="0.5"/>
<circle cx="616.09" cy="683.63" r="1.25" fill="#fff" stroke="#222" stroke-width="0.5"/>
<circle cx="614.59" cy="683.26" r="1.25" fill="#fff" stroke="#222" stroke-width="0.5"/>
<circle cx="616.63" cy="682.59" r="1.25" fill="#fff" stroke="#222" stroke-width="0.5"/>
<circle cx="616.86" cy="700.21" r="1.25" fill="#fff" stroke="#222" stroke-width="0.5"/>
<circle cx="614.58" cy="699.73" r="1.25" fill="#fff" stroke="#222" stroke-width="0.5"/>
<circle cx="616.99" cy="698.76" r="1.25" fill="#fff" stroke="#222" stroke-width="0.5"/>
<circle cx="614.09" cy="698.24" r="1.25" fill="#fff" stroke="#222" stroke-width="0.5"/>
<circle cx="615.43" cy="697.8" r="1.25" fill="#fff" stroke="#222" stroke-width="0.5"/>
<circle cx="616.65" cy="697.11" r="1.25" fill="#fff" stroke="#222" stroke-width="0.5"/>
<circle cx="613.91" cy="696.03" r="1.25" fill="#fff" stroke="#222" stroke-width="0.5"/>
<circle cx="616.65" cy="695.74" r="1.25" fill="#fff" stroke="#222" stroke-width="0.5"/>
<circle cx="616.65" cy="694.85" r="1.25" fill="#fff" stroke="#222" stroke-width="0.5"/>
<circle cx="613.67" cy="694.4" r="1.25" fill="#fff" stroke="#222" stroke-width="0.5"/>
<circle cx="616.59" cy="693.78" r="1.25" fill="#fff" stroke="#222" stroke-width="0.5"/>
<circle cx="614.62" cy="693.14" r="1.25" fill="#fff" stroke="#222" stroke-width="0.5"/>
<circle cx="614.95" cy="692.39" r="1.25" fill="#fff" stroke="#222" stroke-width="0.5"/>
<circle cx="617.15" cy="691.74" r="1.25" fill="#fff" stroke="#222" stroke-width="0.5"/>
<circle cx="613.12" cy="691.26" r="1.25" fill="#fff" stroke="#222" stroke-width="0.5"/>
<circle cx="616.97" cy="690.09" r="1.25" fill="#fff" stroke="#222" stroke-width="0.5"/>
<circle cx="615.01" cy="689.41" r="1.25" fill="#fff" stroke="#222" stroke-width="0.5"/>
<circle cx="617.18" cy="688.78" r="1.25" fill="#fff" stroke="#222" stroke-width="0.5"/>
<circle cx="616.38" cy="688.6" r="1.25" fill="#fff" stroke="#222" stroke-width="0.5"/>
<circle cx="616.02" cy="687.55" r="1.25" fill="#fff" stroke="#222" stroke-width="0.5"/>
<circle cx="657.02" cy="627.58" r="1.25" fill="#fff" stroke="#222" stroke-width="0.5"/>
<circle cx="656.83" cy="631.57" r="1.25" fill="#fff" stroke="#222" stroke-width="0.5"/>
<circle cx="656.87" cy="647.69" r="1.25" fill="#fff" stroke="#222" stroke-width="0.5"/>
<circle cx="656.78" cy="656.13" r="1.25" fill="#fff" stroke="#222" stroke-width="0.5"/>
<circle cx="656.65" cy="661.81" r="1.25" fill="#fff" stroke="#222" stroke-width="0.5"/>
<circle cx="657.07" cy="664.27" r="1.25" fill="#fff" stroke="#222" stroke-width="0.5"/>
<circle cx="656.83" cy="666.11" r="1.25" fill="#fff" stroke="#222" stroke-width="0.5"/>
<circle cx="657.25" cy="668.56" r="1.25" fill="#fff" stroke="#222" stroke-width="0.5"/>
<circle cx="656.64" cy="670.56" r="1.25" fill="#fff" stroke="#222" stroke-width="0.5"/>
<circle cx="657.32" cy="673.02" r="1.25" fill="#fff" stroke="#222" stroke-width="0.5"/>
<circle cx="658.53" cy="680.5" r="1.25" fill="#fff" stroke="#222" stroke-width="0.5"/>
<circle cx="658.44" cy="679.63" r="1.25" fill="#fff" stroke="#222" stroke-width="0.5"/>
<circle cx="655.25" cy="679.13" r="1.25" fill="#fff" stroke="#222" stroke-width="0.5"/>
<circle cx="655.82" cy="678.29" r="1.25" fill="#fff" stroke="#222" stroke-width="0.5"/>
<circle cx="657.59" cy="677.89" r="1.25" fill="#fff" stroke="#222" stroke-width="0.5"/>
<circle cx="656.69" cy="677" r="1.25" fill="#fff" stroke="#222" stroke-width="0.5"/>
<circle cx="657.4" cy="675.98" r="1.25" fill="#fff" stroke="#222" stroke-width="0.5"/>
<circle cx="655.91" cy="690.72" r="1.25" fill="#fff" stroke="#222" stroke-width="0.5"/>
<circle cx="656.9" cy="689.6" r="1.25" fill="#fff" stroke="#222" stroke-width="0.5"/>
<circle cx="656.35" cy="688.92" r="1.25" fill="#fff" stroke="#222" stroke-width="0.5"/>
<circle cx="657.15" cy="688.61" r="1.25" fill="#fff" stroke="#222" stroke-width="0.5"/>
<circle cx="655.55" cy="687.41" r="1.25" fill="#fff" stroke="#222" stroke-width="0.5"/>
<circle cx="658.86" cy="686.69" r="1.25" fill="#fff" stroke="#222" stroke-width="0.5"/>
<circle cx="658.42" cy="685.94" r="1.25" fill="#fff" stroke="#222" stroke-width="0.5"/>
<circle cx="657.57" cy="685.79" r="1.25" fill="#fff" stroke="#222" stroke-width="0.5"/>
<circle cx="655.02" cy="684.42" r="1.25" fill="#fff" stroke="#222" stroke-width="0.5"/>
<circle cx="655.98" cy="684.12" r="1.25" fill="#fff" stroke="#222" stroke-width="0.5"/>
<circle cx="656.66" cy="683.19" r="1.25" fill="#fff" stroke="#222" stroke-width="0.5"/>
<circle cx="659.1" cy="698.75" r="1.25" fill="#fff" stroke="#222" stroke-width="0.5"/>
<circle cx="653.62" cy="698.51" r="1.25" fill="#fff" stroke="#222" stroke-width="0.5"/>
<circle cx="654.15" cy="698.01" r="1.25" fill="#fff" stroke="#222" stroke-width="0.5"/>
<circle cx="660.61" cy="697.6" r="1.25" fill="#fff" stroke="#222" stroke-width="0.5"/>
<circle cx="653.85" cy="696.8" r="1.25" fill="#fff" stroke="#222" stroke-width="0.5"/>
<circle cx="655.6" cy="696.52" r="1.25" fill="#fff" stroke="#222" stroke-width="0.5"/>
<circle cx="655.87" cy="696.16" r="1.25" fill="#fff" stroke="#222" stroke-width="0.5"/>
<circle cx="657.66" cy="695.57" r="1.25" fill="#fff" stroke="#222" stroke-width="0.5"/>
<circle cx="654.65" cy="695.25" r="1.25" fill="#fff" stroke="#222" stroke-width="0.5"/>
<circle cx="654.14" cy="694.82" r="1.25" fill="#fff" stroke="#222" stroke-width="0.5"/>
<circle cx="658.64" cy="694.28" r="1.25" fill="#fff" stroke="#222" stroke-width="0.5"/>
<circle cx="653.81" cy="693.91" r="1.25" fill="#fff" stroke="#222" stroke-width="0.5"/>
<circle cx="656.04" cy="693.56" r="1.25" fill="#fff" stroke="#222" stroke-width="0.5"/>
<circle cx="659.15" cy="692.92" r="1.25" fill="#fff" stroke="#222" stroke-width="0.5"/>
<circle cx="659.29" cy="692.58" r="1.25" fill="#fff" stroke="#222" stroke-width="0.5"/>
<circle cx="656.48" cy="692.03" r="1.25" fill="#fff" stroke="#222" stroke-width="0.5"/>
<circle cx="656.97" cy="691.7" r="1.25" fill="#fff" stroke="#222" stroke-width="0.5"/>
<circle cx="656.4" cy="691.11" r="1.25" fill="#fff" stroke="#222" stroke-width="0.5"/>
<line x1="615.3" y1="688.32" x2="615.3" y2="664.42" stroke="#222" stroke-width="0.6" />
<line x1="608.4" y1="664.42" x2="622.5" y2="664.42" stroke="#222" stroke-width="0.8" />
<line x1="657" y1="694.29" x2="657" y2="680.08" stroke="#222" stroke-width="0.6" />
<line x1="650.2" y1="680.08" x2="663.9" y2="680.08" stroke="#222" stroke-width="0.8" />
<text transform="translate(626,684.13) scale(0.9508,1)" font-size="7.06" fill="#29a9e0" >12.43</text>
<text transform="translate(667,689.33) scale(0.9515,1)" font-size="7.34" fill="#7b59a8" >8.54</text>
<path d="M614.9,599.6 L614.9,593.3 L657.3,593.3 L657.3,621" fill="none" stroke="#222" stroke-width="0.8"/>
<text x="636" y="592" font-size="10" font-weight="bold" text-anchor="middle" fill="#222"  stroke="#222" stroke-width="0.108">*</text>
</svg></body></html>
